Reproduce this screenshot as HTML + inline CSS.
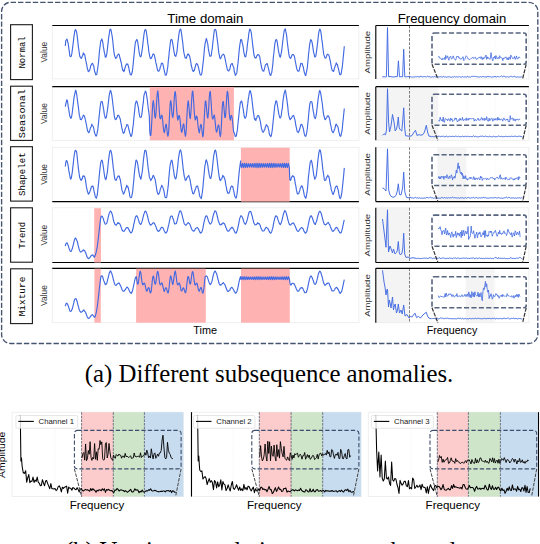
<!DOCTYPE html>
<html><head><meta charset="utf-8"><style>
html,body{margin:0;padding:0;background:#fff;width:540px;height:544px;overflow:hidden}
svg{display:block}
</style></head><body>
<svg width="540" height="544" viewBox="0 0 540 544">
<rect x="1.6" y="2.3" width="536.2" height="341.2" rx="9" ry="9" fill="none" stroke="#44536f" stroke-width="1.35" stroke-dasharray="5.4 2.0"/>
<text x="167.3" y="22.8" font-family="Liberation Sans" font-size="12.4" textLength="76" lengthAdjust="spacingAndGlyphs">Time domain</text>
<text x="397.8" y="22.8" font-family="Liberation Sans" font-size="12.4" textLength="108.4" lengthAdjust="spacingAndGlyphs">Frequency domain</text>
<rect x="10.6" y="24.70" width="21.8" height="54.90" fill="#fff" stroke="#1a1a1a" stroke-width="1.1"/>
<text x="0" y="0" transform="translate(24.6 52.45) rotate(-90)" text-anchor="middle" font-family="Liberation Mono" font-size="9.4" textLength="32.1" lengthAdjust="spacingAndGlyphs">Normal</text>
<text x="0" y="0" transform="translate(47.2 52.20) rotate(-90)" text-anchor="middle" font-family="Liberation Sans" font-size="8.4" fill="#333">Value</text>
<text x="0" y="0" transform="translate(370.4 52.20) rotate(-90)" text-anchor="middle" font-family="Liberation Sans" font-size="8.0" fill="#333" textLength="42.5" lengthAdjust="spacingAndGlyphs">Amplitude</text>
<rect x="52.30" y="25.50" width="306.60" height="53.40" fill="none" stroke="#ebebeb" stroke-width="0.8"/>
<rect x="375.80" y="25.50" width="153.10" height="53.40" fill="none" stroke="#ebebeb" stroke-width="0.8"/>
<line x1="438.20" y1="25.50" x2="438.20" y2="78.90" stroke="#f2f2f2" stroke-width="0.6" stroke-dasharray="1.5 1.5"/>
<line x1="466.90" y1="25.50" x2="466.90" y2="78.90" stroke="#f2f2f2" stroke-width="0.6" stroke-dasharray="1.5 1.5"/>
<line x1="495.60" y1="25.50" x2="495.60" y2="78.90" stroke="#f2f2f2" stroke-width="0.6" stroke-dasharray="1.5 1.5"/>
<line x1="409.5" y1="25.50" x2="409.5" y2="78.90" stroke="#666" stroke-width="0.85" stroke-dasharray="2.8 1.4"/>
<line x1="52.30" y1="25.50" x2="358.90" y2="25.50" stroke="#000" stroke-width="1.2"/>
<line x1="375.80" y1="25.50" x2="528.90" y2="25.50" stroke="#000" stroke-width="1.2"/>
<line x1="375.80" y1="25.50" x2="375.80" y2="78.90" stroke="#000" stroke-width="1.1"/>
<rect x="10.6" y="86.20" width="21.8" height="54.20" fill="#fff" stroke="#1a1a1a" stroke-width="1.1"/>
<text x="0" y="0" transform="translate(24.6 113.60) rotate(-90)" text-anchor="middle" font-family="Liberation Mono" font-size="9.4" textLength="49.2" lengthAdjust="spacingAndGlyphs">Seasonal</text>
<text x="0" y="0" transform="translate(47.2 113.50) rotate(-90)" text-anchor="middle" font-family="Liberation Sans" font-size="8.4" fill="#333">Value</text>
<text x="0" y="0" transform="translate(370.4 113.50) rotate(-90)" text-anchor="middle" font-family="Liberation Sans" font-size="8.0" fill="#333" textLength="42.5" lengthAdjust="spacingAndGlyphs">Amplitude</text>
<rect x="52.30" y="86.70" width="306.60" height="53.60" fill="none" stroke="#ebebeb" stroke-width="0.8"/>
<rect x="375.80" y="86.70" width="62.20" height="53.60" fill="#f4f4f4"/>
<rect x="375.80" y="86.70" width="153.10" height="53.60" fill="none" stroke="#ebebeb" stroke-width="0.8"/>
<line x1="438.20" y1="86.70" x2="438.20" y2="140.30" stroke="#f2f2f2" stroke-width="0.6" stroke-dasharray="1.5 1.5"/>
<line x1="466.90" y1="86.70" x2="466.90" y2="140.30" stroke="#f2f2f2" stroke-width="0.6" stroke-dasharray="1.5 1.5"/>
<line x1="495.60" y1="86.70" x2="495.60" y2="140.30" stroke="#f2f2f2" stroke-width="0.6" stroke-dasharray="1.5 1.5"/>
<line x1="409.5" y1="86.70" x2="409.5" y2="140.30" stroke="#666" stroke-width="0.85" stroke-dasharray="2.8 1.4"/>
<line x1="52.30" y1="86.70" x2="358.90" y2="86.70" stroke="#000" stroke-width="1.2"/>
<line x1="375.80" y1="86.70" x2="528.90" y2="86.70" stroke="#000" stroke-width="1.2"/>
<line x1="375.80" y1="86.70" x2="375.80" y2="140.30" stroke="#000" stroke-width="1.1"/>
<rect x="10.6" y="146.70" width="21.8" height="54.40" fill="#fff" stroke="#1a1a1a" stroke-width="1.1"/>
<text x="0" y="0" transform="translate(24.6 174.20) rotate(-90)" text-anchor="middle" font-family="Liberation Mono" font-size="9.4" textLength="43.6" lengthAdjust="spacingAndGlyphs">Shapelet</text>
<text x="0" y="0" transform="translate(47.2 174.45) rotate(-90)" text-anchor="middle" font-family="Liberation Sans" font-size="8.4" fill="#333">Value</text>
<text x="0" y="0" transform="translate(370.4 174.45) rotate(-90)" text-anchor="middle" font-family="Liberation Sans" font-size="8.0" fill="#333" textLength="42.5" lengthAdjust="spacingAndGlyphs">Amplitude</text>
<rect x="52.30" y="147.30" width="306.60" height="54.30" fill="none" stroke="#ebebeb" stroke-width="0.8"/>
<rect x="437.5" y="147.30" width="28.6" height="54.30" fill="#f4f4f4"/>
<rect x="375.80" y="147.30" width="153.10" height="54.30" fill="none" stroke="#ebebeb" stroke-width="0.8"/>
<line x1="438.20" y1="147.30" x2="438.20" y2="201.60" stroke="#f2f2f2" stroke-width="0.6" stroke-dasharray="1.5 1.5"/>
<line x1="466.90" y1="147.30" x2="466.90" y2="201.60" stroke="#f2f2f2" stroke-width="0.6" stroke-dasharray="1.5 1.5"/>
<line x1="495.60" y1="147.30" x2="495.60" y2="201.60" stroke="#f2f2f2" stroke-width="0.6" stroke-dasharray="1.5 1.5"/>
<line x1="409.5" y1="147.30" x2="409.5" y2="201.60" stroke="#666" stroke-width="0.85" stroke-dasharray="2.8 1.4"/>
<line x1="52.30" y1="201.60" x2="358.90" y2="201.60" stroke="#000" stroke-width="1.2"/>
<line x1="375.80" y1="201.60" x2="528.90" y2="201.60" stroke="#000" stroke-width="1.2"/>
<line x1="375.80" y1="147.30" x2="375.80" y2="201.60" stroke="#000" stroke-width="1.1"/>
<rect x="10.6" y="207.80" width="21.8" height="54.40" fill="#fff" stroke="#1a1a1a" stroke-width="1.1"/>
<text x="0" y="0" transform="translate(24.6 235.30) rotate(-90)" text-anchor="middle" font-family="Liberation Mono" font-size="9.4" textLength="27.1" lengthAdjust="spacingAndGlyphs">Trend</text>
<text x="0" y="0" transform="translate(47.2 235.15) rotate(-90)" text-anchor="middle" font-family="Liberation Sans" font-size="8.4" fill="#333">Value</text>
<text x="0" y="0" transform="translate(370.4 235.15) rotate(-90)" text-anchor="middle" font-family="Liberation Sans" font-size="8.0" fill="#333" textLength="42.5" lengthAdjust="spacingAndGlyphs">Amplitude</text>
<rect x="52.30" y="207.80" width="306.60" height="54.70" fill="none" stroke="#ebebeb" stroke-width="0.8"/>
<rect x="375.80" y="207.80" width="33.70" height="54.70" fill="#f4f4f4"/>
<rect x="375.80" y="207.80" width="153.10" height="54.70" fill="none" stroke="#ebebeb" stroke-width="0.8"/>
<line x1="438.20" y1="207.80" x2="438.20" y2="262.50" stroke="#f2f2f2" stroke-width="0.6" stroke-dasharray="1.5 1.5"/>
<line x1="466.90" y1="207.80" x2="466.90" y2="262.50" stroke="#f2f2f2" stroke-width="0.6" stroke-dasharray="1.5 1.5"/>
<line x1="495.60" y1="207.80" x2="495.60" y2="262.50" stroke="#f2f2f2" stroke-width="0.6" stroke-dasharray="1.5 1.5"/>
<line x1="409.5" y1="207.80" x2="409.5" y2="262.50" stroke="#666" stroke-width="0.85" stroke-dasharray="2.8 1.4"/>
<line x1="52.30" y1="262.50" x2="358.90" y2="262.50" stroke="#000" stroke-width="1.2"/>
<line x1="375.80" y1="262.50" x2="528.90" y2="262.50" stroke="#000" stroke-width="1.2"/>
<line x1="375.80" y1="207.80" x2="375.80" y2="262.50" stroke="#000" stroke-width="1.1"/>
<rect x="10.6" y="268.80" width="21.8" height="54.80" fill="#fff" stroke="#1a1a1a" stroke-width="1.1"/>
<text x="0" y="0" transform="translate(24.6 296.50) rotate(-90)" text-anchor="middle" font-family="Liberation Mono" font-size="9.4" textLength="39.7" lengthAdjust="spacingAndGlyphs">Mixture</text>
<text x="0" y="0" transform="translate(47.2 295.50) rotate(-90)" text-anchor="middle" font-family="Liberation Sans" font-size="8.4" fill="#333">Value</text>
<text x="0" y="0" transform="translate(370.4 295.50) rotate(-90)" text-anchor="middle" font-family="Liberation Sans" font-size="8.0" fill="#333" textLength="42.5" lengthAdjust="spacingAndGlyphs">Amplitude</text>
<rect x="52.30" y="268.30" width="306.60" height="54.40" fill="none" stroke="#ebebeb" stroke-width="0.8"/>
<rect x="465.6" y="268.30" width="28.8" height="54.40" fill="#f4f4f4"/>
<rect x="375.80" y="268.30" width="33.70" height="54.40" fill="#f4f4f4"/>
<rect x="375.80" y="268.30" width="153.10" height="54.40" fill="none" stroke="#ebebeb" stroke-width="0.8"/>
<line x1="438.20" y1="268.30" x2="438.20" y2="322.70" stroke="#f2f2f2" stroke-width="0.6" stroke-dasharray="1.5 1.5"/>
<line x1="466.90" y1="268.30" x2="466.90" y2="322.70" stroke="#f2f2f2" stroke-width="0.6" stroke-dasharray="1.5 1.5"/>
<line x1="495.60" y1="268.30" x2="495.60" y2="322.70" stroke="#f2f2f2" stroke-width="0.6" stroke-dasharray="1.5 1.5"/>
<line x1="409.5" y1="268.30" x2="409.5" y2="322.70" stroke="#666" stroke-width="0.85" stroke-dasharray="2.8 1.4"/>
<line x1="52.30" y1="268.30" x2="358.90" y2="268.30" stroke="#000" stroke-width="1.2"/>
<line x1="375.80" y1="268.30" x2="528.90" y2="268.30" stroke="#000" stroke-width="1.2"/>
<line x1="375.80" y1="268.30" x2="375.80" y2="322.70" stroke="#000" stroke-width="1.1"/>
<rect x="149.80" y="87.10" width="84.10" height="53.20" fill="#ffb2b2"/>
<rect x="240.90" y="147.70" width="48.80" height="53.90" fill="#ffb2b2"/>
<rect x="94.20" y="208.20" width="6.80" height="54.30" fill="#ffb2b2"/>
<rect x="94.40" y="268.70" width="6.40" height="54.00" fill="#ffb2b2"/>
<rect x="136.10" y="268.70" width="69.70" height="54.00" fill="#ffb2b2"/>
<rect x="241.00" y="268.70" width="48.80" height="54.00" fill="#ffb2b2"/>
<path d="M65.30 46.02L65.80 40.65L66.30 40.01L66.80 39.02L67.30 39.93L67.80 42.09L68.30 44.19L68.80 48.33L69.30 51.32L69.80 55.94L70.30 56.36L70.80 56.68L71.30 55.93L71.80 53.64L72.30 50.20L72.80 46.41L73.30 42.34L73.80 37.64L74.30 34.37L74.80 31.02L75.30 29.57L75.80 30.13L76.30 31.00L76.80 33.11L77.30 36.84L77.80 41.35L78.30 46.35L78.80 49.50L79.30 53.05L79.80 56.29L80.30 57.13L80.80 58.08L81.30 58.42L81.80 57.47L82.30 56.12L82.80 55.26L83.30 52.90L83.80 54.43L84.30 54.07L84.80 55.06L85.30 57.95L85.80 60.67L86.30 62.93L86.80 65.37L87.30 68.25L87.80 70.00L88.30 71.66L88.80 71.54L89.30 70.69L89.80 69.87L90.30 67.67L90.80 65.66L91.30 64.88L91.80 63.94L92.30 63.34L92.80 63.63L93.30 65.41L93.80 66.11L94.30 69.82L94.80 72.02L95.30 72.97L95.80 74.92L96.30 74.61L96.80 74.33L97.30 70.74L97.80 67.73L98.30 64.00L98.80 59.15L99.30 52.45L99.80 48.29L100.30 44.49L100.80 41.02L101.30 40.31L101.80 38.81L102.30 40.62L102.80 42.24L103.30 46.38L103.80 49.10L104.30 52.14L104.80 54.12L105.30 57.23L105.80 57.13L106.30 56.07L106.80 53.88L107.30 50.06L107.80 45.42L108.30 40.86L108.80 36.57L109.30 33.90L109.80 30.04L110.30 29.15L110.80 29.44L111.30 31.27L111.80 34.25L112.30 37.16L112.80 41.20L113.30 46.34L113.80 50.93L114.30 54.12L114.80 56.36L115.30 57.60L115.80 58.36L116.30 57.79L116.80 57.36L117.30 55.48L117.80 54.82L118.30 54.03L118.80 54.26L119.30 54.80L119.80 57.31L120.30 58.97L120.80 61.57L121.30 62.77L121.80 66.22L122.30 68.38L122.80 70.53L123.30 70.11L123.80 71.67L124.30 70.88L124.80 68.48L125.30 66.98L125.80 65.40L126.30 64.40L126.80 63.85L127.30 64.40L127.80 64.10L128.30 66.00L128.80 67.74L129.30 70.77L129.80 72.55L130.30 74.63L130.80 74.53L131.30 74.85L131.80 73.26L132.30 71.72L132.80 67.62L133.30 62.57L133.80 57.38L134.30 52.61L134.80 47.29L135.30 43.22L135.80 41.06L136.30 40.54L136.80 39.35L137.30 40.58L137.80 42.74L138.30 45.81L138.80 50.01L139.30 53.27L139.80 55.31L140.30 56.80L140.80 56.74L141.30 55.42L141.80 52.06L142.30 48.91L142.80 44.87L143.30 39.98L143.80 35.92L144.30 32.31L144.80 30.18L145.30 29.72L145.80 29.61L146.30 31.58L146.80 35.04L147.30 38.84L147.80 43.62L148.30 46.25L148.80 51.51L149.30 54.13L149.80 56.70L150.30 58.29L150.80 58.71L151.30 58.22L151.80 56.84L152.30 56.33L152.80 54.46L153.30 53.94L153.80 54.45L154.30 54.69L154.80 57.51L155.30 59.25L155.80 62.43L156.30 64.23L156.80 66.69L157.30 69.11L157.80 70.85L158.30 70.94L158.80 71.22L159.30 70.16L159.80 69.48L160.30 66.78L160.80 65.92L161.30 63.88L161.80 63.05L162.30 63.24L162.80 63.89L163.30 66.08L163.80 68.59L164.30 70.52L164.80 72.91L165.30 75.02L165.80 75.21L166.30 74.86L166.80 73.08L167.30 69.66L167.80 66.80L168.30 60.92L168.80 56.83L169.30 51.39L169.80 47.24L170.30 42.95L170.80 40.07L171.30 39.48L171.80 39.38L172.30 41.16L172.80 43.87L173.30 47.02L173.80 50.35L174.30 53.07L174.80 55.58L175.30 55.80L175.80 56.46L176.30 54.40L176.80 52.60L177.30 48.86L177.80 43.05L178.30 39.52L178.80 35.31L179.30 31.64L179.80 30.25L180.30 29.10L180.80 29.27L181.30 32.05L181.80 35.32L182.30 39.43L182.80 43.19L183.30 48.30L183.80 52.17L184.30 54.37L184.80 56.68L185.30 58.01L185.80 57.93L186.30 58.38L186.80 56.64L187.30 54.93L187.80 54.07L188.30 53.94L188.80 55.23L189.30 55.12L189.80 57.00L190.30 59.53L190.80 61.99L191.30 65.82L191.80 67.11L192.30 69.73L192.80 70.80L193.30 71.51L193.80 70.40L194.30 70.72L194.80 68.37L195.30 66.75L195.80 64.74L196.30 63.65L196.80 63.69L197.30 64.11L197.80 65.03L198.30 66.95L198.80 68.90L199.30 70.92L199.80 73.39L200.30 74.79L200.80 75.08L201.30 74.89L201.80 73.32L202.30 69.79L202.80 65.40L203.30 61.02L203.80 56.35L204.30 50.31L204.80 45.86L205.30 42.30L205.80 40.65L206.30 38.44L206.80 40.02L207.30 42.23L207.80 44.10L208.30 48.42L208.80 51.32L209.30 53.72L209.80 56.08L210.30 56.14L210.80 56.07L211.30 55.28L211.80 51.00L212.30 48.28L212.80 42.99L213.30 39.04L213.80 34.66L214.30 30.58L214.80 29.50L215.30 29.43L215.80 29.86L216.30 32.13L216.80 36.31L217.30 39.95L217.80 43.85L218.30 48.52L218.80 52.90L219.30 55.17L219.80 57.69L220.30 58.83L220.80 58.13L221.30 56.90L221.80 55.73L222.30 55.15L222.80 54.68L223.30 54.07L223.80 54.58L224.30 55.29L224.80 57.51L225.30 59.60L225.80 62.42L226.30 64.75L226.80 67.10L227.30 69.50L227.80 70.40L228.30 70.81L228.80 71.08L229.30 69.60L229.80 69.41L230.30 66.82L230.80 64.59L231.30 64.16L231.80 63.58L232.30 63.50L232.80 65.48L233.30 66.46L233.80 67.67L234.30 71.71L234.80 73.09L235.30 75.40L235.80 74.82L236.30 73.77L236.80 72.92L237.30 68.45L237.80 64.73L238.30 60.32L238.80 54.50L239.30 49.41L239.80 45.15L240.30 42.18L240.80 39.46L241.30 39.55L241.80 40.39L242.30 43.24L242.80 44.95L243.30 48.02L243.80 52.04L244.30 54.27L244.80 56.39L245.30 56.90L245.80 56.58L246.30 53.64L246.80 50.63L247.30 45.44L247.80 41.72L248.30 38.44L248.80 33.64L249.30 30.80L249.80 29.01L250.30 29.70L250.80 30.83L251.30 32.81L251.80 37.22L252.30 41.23L252.80 45.82L253.30 49.33L253.80 53.95L254.30 56.03L254.80 57.47L255.30 57.97L255.80 57.91L256.30 57.59L256.80 55.95L257.30 55.44L257.80 54.43L258.30 54.57L258.80 54.87L259.30 55.79L259.80 56.97L260.30 60.48L260.80 63.48L261.30 65.93L261.80 68.49L262.30 69.81L262.80 70.86L263.30 70.78L263.80 71.21L264.30 69.44L264.80 67.54L265.30 65.48L265.80 64.55L266.30 64.32L266.80 63.64L267.30 63.66L267.80 65.95L268.30 67.88L268.80 69.95L269.30 72.15L269.80 74.23L270.30 75.13L270.80 75.40L271.30 73.64L271.80 72.33L272.30 68.25L272.80 64.60L273.30 57.71L273.80 53.74L274.30 48.95L274.80 44.19L275.30 41.50L275.80 39.93L276.30 39.60L276.80 40.21L277.30 42.65L277.80 46.20L278.30 49.68L278.80 52.36L279.30 54.93L279.80 56.57L280.30 57.26L280.80 55.26L281.30 52.77L281.80 49.96L282.30 45.21L282.80 40.96L283.30 36.97L283.80 33.51L284.30 30.21L284.80 29.78L285.30 28.79L285.80 31.42L286.30 33.28L286.80 37.15L287.30 42.27L287.80 46.16L288.30 50.03L288.80 53.57L289.30 56.47L289.80 57.71L290.30 58.22L290.80 58.38L291.30 56.67L291.80 55.63L292.30 54.53L292.80 54.60L293.30 54.46L293.80 55.28L294.30 56.15L294.80 58.23L295.30 61.28L295.80 63.51L296.30 66.74L296.80 68.98L297.30 69.97L297.80 71.09L298.30 71.09L298.80 71.17L299.30 70.23L299.80 67.37L300.30 65.76L300.80 63.36L301.30 63.66L301.80 63.47L302.30 63.71L302.80 66.00L303.30 66.97L303.80 69.88L304.30 72.28L304.80 73.45L305.30 75.40L305.80 75.41L306.30 73.00L306.80 70.41L307.30 67.59L307.80 62.70L308.30 57.04L308.80 52.26L309.30 47.56L309.80 43.57L310.30 41.21L310.80 39.60L311.30 40.26L311.80 41.45L312.30 43.58L312.80 46.89L313.30 50.37L313.80 53.21L314.30 54.75L314.80 57.03L315.30 56.72L315.80 56.09L316.30 52.79L316.80 49.35L317.30 44.97L317.80 41.09L318.30 36.21L318.80 32.55L319.30 30.47L319.80 29.14L320.30 29.87L320.80 31.64L321.30 34.79L321.80 39.41L322.30 42.68L322.80 47.21L323.30 51.04L323.80 54.65L324.30 56.11L324.80 57.60L325.30 58.21L325.80 58.00L326.30 56.75L326.80 55.38L327.30 54.20L327.80 54.24L328.30 54.74L328.80 55.08L329.30 56.63L329.80 58.99L330.30 61.02L330.80 64.10L331.30 66.75L331.80 69.17L332.30 70.51L332.80 70.65L333.30 71.56L333.80 70.93L334.30 68.63L334.80 67.26L335.30 65.57L335.80 64.52L336.30 62.82L336.80 64.28L337.30 64.22L337.80 66.59L338.30 68.16L338.80 70.27L339.30 72.56L339.80 74.69L340.30 74.70L340.80 74.61L341.30 72.99L341.80 69.61L342.30 67.04L342.80 61.97L343.30 56.53L343.80 51.92L344.30 46.30" fill="none" stroke="#4169e1" stroke-width="1.15" stroke-linejoin="round"/>
<path d="M65.30 106.59L65.80 104.14L66.30 101.86L66.80 99.90L67.30 100.25L67.80 103.29L68.30 107.09L68.80 109.70L69.30 113.03L69.80 116.10L70.30 117.22L70.80 118.28L71.30 117.77L71.80 115.53L72.30 112.29L72.80 107.82L73.30 103.92L73.80 99.19L74.30 96.21L74.80 93.99L75.30 90.99L75.80 90.23L76.30 92.30L76.80 95.21L77.30 99.03L77.80 103.17L78.30 106.65L78.80 110.73L79.30 115.13L79.80 116.72L80.30 119.34L80.80 119.43L81.30 119.69L81.80 118.86L82.30 117.78L82.80 116.70L83.30 115.12L83.80 115.49L84.30 115.89L84.80 117.31L85.30 119.70L85.80 121.53L86.30 124.07L86.80 126.75L87.30 129.28L87.80 131.50L88.30 131.80L88.80 132.85L89.30 131.87L89.80 130.43L90.30 128.35L90.80 127.39L91.30 126.16L91.80 124.14L92.30 125.21L92.80 125.96L93.30 126.68L93.80 128.65L94.30 131.74L94.80 133.46L95.30 134.40L95.80 135.96L96.30 136.05L96.80 135.01L97.30 131.74L97.80 129.66L98.30 124.65L98.80 120.02L99.30 114.76L99.80 110.37L100.30 105.75L100.80 102.52L101.30 101.44L101.80 101.57L102.30 101.91L102.80 104.88L103.30 107.38L103.80 110.33L104.30 114.40L104.80 115.91L105.30 118.28L105.80 117.92L106.30 117.30L106.80 114.22L107.30 110.99L107.80 107.70L108.30 102.89L108.80 98.59L109.30 94.79L109.80 92.63L110.30 90.56L110.80 90.85L111.30 92.84L111.80 95.31L112.30 99.05L112.80 103.52L113.30 107.79L113.80 111.73L114.30 115.91L114.80 118.07L115.30 119.62L115.80 119.55L116.30 119.01L116.80 117.70L117.30 117.05L117.80 115.22L118.30 115.21L118.80 115.74L119.30 116.80L119.80 117.95L120.30 119.24L120.80 122.40L121.30 124.58L121.80 127.94L122.30 129.77L122.80 131.81L123.30 133.41L123.80 132.69L124.30 132.57L124.80 130.31L125.30 128.46L125.80 127.56L126.30 126.38L126.80 124.57L127.30 124.76L127.80 124.79L128.30 126.78L128.80 129.25L129.30 131.09L129.80 133.08L130.30 134.48L130.80 136.25L131.30 136.37L131.80 134.98L132.30 132.29L132.80 127.95L133.30 124.75L133.80 118.90L134.30 113.75L134.80 109.41L135.30 104.22L135.80 102.40L136.30 100.98L136.80 101.23L137.30 103.01L137.80 105.03L138.30 107.10L138.80 111.08L139.30 114.39L139.80 116.74L140.30 117.43L140.80 117.30L141.30 116.97L141.80 114.31L142.30 110.57L142.80 105.58L143.30 102.72L143.80 96.51L144.30 94.22L144.80 93.00L145.30 91.03L145.80 91.65L146.30 92.85L146.80 96.95L147.30 99.59L147.80 104.53L148.30 108.74L148.80 112.09L149.30 116.13L149.80 131.86L150.30 135.50L150.80 135.38L151.30 129.92L151.80 121.18L152.30 111.31L152.80 103.25L153.30 100.65L153.80 103.52L154.30 109.74L154.80 116.19L155.30 118.09L155.80 115.51L156.30 108.05L156.80 99.01L157.30 93.23L157.80 90.74L158.30 95.04L158.80 103.35L159.30 110.59L159.80 117.18L160.30 118.83L160.80 118.32L161.30 115.67L161.80 115.20L162.30 116.94L162.80 121.70L163.30 127.77L163.80 131.29L164.30 132.63L164.80 130.50L165.30 127.17L165.80 124.55L166.30 124.43L166.80 128.46L167.30 133.64L167.80 136.18L168.30 134.84L168.80 130.05L169.30 119.76L169.80 109.71L170.30 102.34L170.80 100.53L171.30 104.16L171.80 111.46L172.30 116.18L172.80 117.68L173.30 114.50L173.80 107.13L174.30 97.82L174.80 92.49L175.30 91.66L175.80 95.82L176.30 103.82L176.80 111.26L177.30 116.86L177.80 120.13L178.30 118.83L178.80 115.46L179.30 115.49L179.80 117.53L180.30 122.42L180.80 127.67L181.30 131.21L181.80 132.36L182.30 130.30L182.80 126.95L183.30 123.99L183.80 124.10L184.30 128.51L184.80 132.61L185.30 136.20L185.80 135.04L186.30 128.63L186.80 118.76L187.30 109.12L187.80 102.95L188.30 100.75L188.80 105.23L189.30 111.54L189.80 116.79L190.30 118.68L190.80 113.84L191.30 106.77L191.80 97.38L192.30 91.73L192.80 91.08L193.30 96.55L193.80 104.00L194.30 112.58L194.80 117.48L195.30 120.02L195.80 118.94L196.30 116.07L196.80 116.20L197.30 118.14L197.80 123.69L198.30 128.11L198.80 130.97L199.30 132.85L199.80 129.87L200.30 126.21L200.80 124.44L201.30 124.94L201.80 129.23L202.30 133.26L202.80 136.82L203.30 134.60L203.80 126.92L204.30 117.22L204.80 107.98L205.30 101.19L205.80 101.19L206.30 105.38L206.80 111.54L207.30 116.79L207.80 118.11L208.30 114.14L208.80 106.13L209.30 97.05L209.80 92.14L210.30 91.48L210.80 97.24L211.30 104.86L211.80 113.58L212.30 117.77L212.80 119.09L213.30 117.89L213.80 116.06L214.30 114.94L214.80 118.05L215.30 123.34L215.80 128.64L216.30 131.49L216.80 132.11L217.30 129.48L217.80 127.00L218.30 124.93L218.80 125.34L219.30 128.78L219.80 134.16L220.30 136.72L220.80 133.93L221.30 127.17L221.80 116.65L222.30 106.80L222.80 102.03L223.30 101.50L223.80 106.30L224.30 111.90L224.80 117.43L225.30 117.40L225.80 113.19L226.30 104.32L226.80 96.05L227.30 91.25L227.80 92.68L228.30 97.81L228.80 105.81L229.30 113.48L229.80 118.15L230.30 120.09L230.80 116.86L231.30 115.30L231.80 116.00L232.30 119.24L232.80 123.76L233.30 129.33L233.80 132.37L234.30 132.92L234.80 134.49L235.30 136.54L235.80 136.28L236.30 136.07L236.80 132.86L237.30 130.53L237.80 125.32L238.30 120.32L238.80 116.07L239.30 110.55L239.80 106.84L240.30 102.92L240.80 102.15L241.30 100.91L241.80 101.25L242.30 103.85L242.80 107.03L243.30 109.58L243.80 113.38L244.30 116.76L244.80 118.02L245.30 118.20L245.80 117.18L246.30 115.61L246.80 111.46L247.30 106.77L247.80 103.42L248.30 98.93L248.80 96.43L249.30 92.93L249.80 90.90L250.30 90.71L250.80 92.74L251.30 94.70L251.80 98.33L252.30 102.68L252.80 107.07L253.30 111.15L253.80 114.65L254.30 117.81L254.80 119.65L255.30 118.83L255.80 120.52L256.30 118.64L256.80 118.02L257.30 116.04L257.80 115.73L258.30 115.48L258.80 115.97L259.30 117.59L259.80 119.47L260.30 121.23L260.80 124.36L261.30 127.43L261.80 129.75L262.30 131.05L262.80 132.07L263.30 132.30L263.80 131.28L264.30 129.99L264.80 129.67L265.30 127.14L265.80 125.93L266.30 124.62L266.80 125.29L267.30 126.04L267.80 126.46L268.30 128.69L268.80 130.37L269.30 133.73L269.80 135.24L270.30 135.63L270.80 136.71L271.30 135.27L271.80 133.00L272.30 129.51L272.80 124.67L273.30 119.75L273.80 115.13L274.30 109.99L274.80 105.49L275.30 103.81L275.80 101.14L276.30 100.74L276.80 101.77L277.30 104.61L277.80 107.72L278.30 110.71L278.80 114.14L279.30 115.64L279.80 117.70L280.30 117.96L280.80 117.13L281.30 115.01L281.80 110.48L282.30 108.64L282.80 102.45L283.30 98.76L283.80 95.38L284.30 92.84L284.80 91.31L285.30 90.08L285.80 92.45L286.30 96.04L286.80 98.97L287.30 103.11L287.80 106.83L288.30 112.39L288.80 115.41L289.30 117.24L289.80 119.03L290.30 119.53L290.80 118.75L291.30 118.24L291.80 117.33L292.30 116.40L292.80 116.04L293.30 115.43L293.80 115.89L294.30 117.71L294.80 119.35L295.30 121.64L295.80 125.45L296.30 127.42L296.80 129.88L297.30 131.73L297.80 131.78L298.30 132.57L298.80 131.75L299.30 130.20L299.80 128.79L300.30 126.64L300.80 124.65L301.30 124.69L301.80 124.33L302.30 125.82L302.80 126.99L303.30 128.63L303.80 131.16L304.30 133.94L304.80 135.61L305.30 136.26L305.80 136.21L306.30 134.60L306.80 132.13L307.30 128.78L307.80 123.92L308.30 119.06L308.80 113.32L309.30 108.36L309.80 104.44L310.30 102.24L310.80 101.63L311.30 101.60L311.80 101.98L312.30 104.14L312.80 108.27L313.30 111.44L313.80 113.70L314.30 117.15L314.80 118.08L315.30 118.63L315.80 116.89L316.30 114.56L316.80 110.73L317.30 105.93L317.80 101.83L318.30 97.50L318.80 94.76L319.30 91.64L319.80 90.42L320.30 91.86L320.80 93.89L321.30 97.00L321.80 100.66L322.30 103.76L322.80 108.38L323.30 112.32L323.80 115.73L324.30 117.04L324.80 119.24L325.30 119.68L325.80 118.67L326.30 118.18L326.80 117.51L327.30 115.99L327.80 115.87L328.30 115.93L328.80 116.50L329.30 118.07L329.80 119.95L330.30 123.28L330.80 125.28L331.30 127.76L331.80 130.52L332.30 131.35L332.80 132.53L333.30 132.66L333.80 131.36L334.30 129.97L334.80 128.68L335.30 127.01L335.80 124.73L336.30 124.16L336.80 125.40L337.30 125.84L337.80 126.31L338.30 128.71L338.80 131.61L339.30 133.31L339.80 135.59L340.30 136.21L340.80 136.08L341.30 133.80L341.80 131.81L342.30 128.54L342.80 122.64L343.30 118.48L343.80 113.27L344.30 108.53" fill="none" stroke="#4169e1" stroke-width="1.15" stroke-linejoin="round"/>
<path d="M65.30 166.47L65.80 162.49L66.30 160.54L66.80 160.75L67.30 161.75L67.80 164.02L68.30 166.95L68.80 170.43L69.30 173.23L69.80 175.75L70.30 178.31L70.80 179.06L71.30 178.04L71.80 175.06L72.30 172.10L72.80 167.37L73.30 163.44L73.80 158.29L74.30 154.71L74.80 151.97L75.30 150.25L75.80 150.70L76.30 150.91L76.80 153.12L77.30 158.36L77.80 162.97L78.30 167.58L78.80 171.39L79.30 175.22L79.80 177.84L80.30 178.94L80.80 180.00L81.30 180.31L81.80 178.94L82.30 178.93L82.80 176.13L83.30 175.82L83.80 176.34L84.30 176.09L84.80 177.22L85.30 179.22L85.80 182.17L86.30 186.15L86.80 188.49L87.30 191.04L87.80 192.43L88.30 194.13L88.80 193.97L89.30 192.84L89.80 191.77L90.30 190.39L90.80 189.08L91.30 186.98L91.80 186.24L92.30 186.71L92.80 185.96L93.30 187.14L93.80 190.21L94.30 192.35L94.80 194.49L95.30 196.67L95.80 197.63L96.30 198.20L96.80 196.68L97.30 194.77L97.80 190.15L98.30 185.64L98.80 180.77L99.30 175.02L99.80 170.42L100.30 165.70L100.80 162.26L101.30 160.83L101.80 160.21L102.30 160.90L102.80 163.46L103.30 166.81L103.80 170.49L104.30 174.13L104.80 177.22L105.30 178.71L105.80 179.63L106.30 178.28L106.80 175.10L107.30 172.34L107.80 167.71L108.30 162.23L108.80 158.08L109.30 154.63L109.80 151.50L110.30 150.53L110.80 150.41L111.30 152.22L111.80 154.69L112.30 158.94L112.80 163.07L113.30 168.14L113.80 171.27L114.30 175.78L114.80 178.82L115.30 180.06L115.80 180.29L116.30 180.21L116.80 178.60L117.30 177.40L117.80 176.49L118.30 175.87L118.80 176.33L119.30 176.17L119.80 178.60L120.30 179.63L120.80 182.73L121.30 186.01L121.80 189.39L122.30 190.95L122.80 191.95L123.30 194.04L123.80 193.84L124.30 192.56L124.80 191.18L125.30 189.62L125.80 188.25L126.30 187.07L126.80 185.20L127.30 186.89L127.80 186.54L128.30 187.91L128.80 190.53L129.30 192.69L129.80 196.09L130.30 197.39L130.80 197.74L131.30 197.66L131.80 196.23L132.30 193.59L132.80 190.16L133.30 184.70L133.80 180.38L134.30 174.13L134.80 169.07L135.30 165.42L135.80 161.10L136.30 160.12L136.80 160.87L137.30 162.03L137.80 164.58L138.30 168.07L138.80 171.14L139.30 174.61L139.80 176.58L140.30 177.75L140.80 179.28L141.30 176.84L141.80 174.21L142.30 171.38L142.80 166.72L143.30 161.26L143.80 156.84L144.30 153.42L144.80 150.55L145.30 150.22L145.80 150.51L146.30 152.44L146.80 155.92L147.30 159.97L147.80 165.03L148.30 169.42L148.80 172.03L149.30 176.64L149.80 178.10L150.30 179.29L150.80 180.63L151.30 179.46L151.80 178.62L152.30 178.05L152.80 176.16L153.30 175.44L153.80 176.10L154.30 177.41L154.80 178.77L155.30 180.14L155.80 183.37L156.30 186.54L156.80 190.28L157.30 192.06L157.80 193.60L158.30 194.48L158.80 193.61L159.30 193.06L159.80 191.58L160.30 189.12L160.80 187.87L161.30 186.80L161.80 185.30L162.30 186.27L162.80 187.16L163.30 188.96L163.80 190.32L164.30 193.17L164.80 196.10L165.30 197.53L165.80 197.62L166.30 197.77L166.80 196.69L167.30 193.02L167.80 189.11L168.30 185.16L168.80 178.50L169.30 173.06L169.80 167.75L170.30 163.97L170.80 162.32L171.30 160.37L171.80 160.21L172.30 162.01L172.80 165.20L173.30 168.94L173.80 171.75L174.30 175.60L174.80 177.37L175.30 178.92L175.80 178.75L176.30 177.12L176.80 173.64L177.30 169.77L177.80 165.51L178.30 159.96L178.80 156.36L179.30 153.10L179.80 151.15L180.30 149.90L180.80 150.62L181.30 152.98L181.80 155.95L182.30 160.40L182.80 165.26L183.30 169.69L183.80 173.07L184.30 176.61L184.80 177.96L185.30 180.46L185.80 179.98L186.30 179.72L186.80 177.99L187.30 177.24L187.80 176.49L188.30 176.26L188.80 175.39L189.30 177.49L189.80 178.85L190.30 181.02L190.80 184.46L191.30 187.02L191.80 189.70L192.30 191.66L192.80 193.49L193.30 193.94L193.80 193.52L194.30 192.09L194.80 190.74L195.30 189.39L195.80 188.14L196.30 186.29L196.80 186.40L197.30 185.97L197.80 186.54L198.30 189.15L198.80 190.68L199.30 193.77L199.80 196.29L200.30 197.23L200.80 197.96L201.30 198.58L201.80 195.62L202.30 192.42L202.80 188.34L203.30 182.81L203.80 177.35L204.30 172.23L204.80 166.19L205.30 164.28L205.80 160.73L206.30 159.85L206.80 161.23L207.30 162.92L207.80 165.23L208.30 169.37L208.80 172.22L209.30 175.46L209.80 177.20L210.30 178.41L210.80 178.45L211.30 176.37L211.80 173.24L212.30 169.38L212.80 164.28L213.30 159.34L213.80 155.36L214.30 153.07L214.80 150.39L215.30 150.09L215.80 150.98L216.30 153.61L216.80 157.28L217.30 161.38L217.80 165.90L218.30 170.03L218.80 173.87L219.30 177.47L219.80 179.61L220.30 180.61L220.80 180.18L221.30 179.01L221.80 178.55L222.30 177.34L222.80 175.42L223.30 176.15L223.80 176.45L224.30 178.18L224.80 178.84L225.30 181.33L225.80 185.19L226.30 186.88L226.80 189.98L227.30 191.82L227.80 193.09L228.30 193.03L228.80 193.33L229.30 192.72L229.80 190.84L230.30 189.06L230.80 187.08L231.30 186.81L231.80 185.97L232.30 186.63L232.80 186.64L233.30 189.45L233.80 191.09L234.30 194.22L234.80 196.26L235.30 197.06L235.80 198.08L236.30 197.70L236.80 195.20L237.30 191.79L237.80 186.60L238.30 181.47L238.80 175.78L239.30 171.11L239.80 167.05L240.30 163.23L240.80 160.95L239.90 167.35L240.85 163.36L241.80 167.53L242.75 163.22L243.70 167.60L244.65 163.22L245.60 167.52L246.55 163.36L247.50 167.35L248.45 163.54L249.40 167.20L250.35 163.64L251.30 167.17L252.25 163.59L253.20 167.29L254.15 163.42L255.10 167.47L256.05 163.25L257.00 167.59L257.95 163.20L258.90 167.57L259.85 163.30L260.80 167.41L261.75 163.48L262.70 167.24L263.65 163.62L264.60 167.16L265.55 163.62L266.50 167.23L267.45 163.49L268.40 167.41L269.35 163.30L270.30 167.56L271.25 163.20L272.20 167.59L273.15 163.25L274.10 167.48L275.05 163.41L276.00 167.29L276.95 163.58L277.90 167.17L278.85 163.64L279.80 167.19L280.75 163.54L281.70 167.34L282.65 163.36L283.60 167.52L284.55 163.22L285.50 167.60L286.45 163.22L287.40 167.53L288.35 163.35L289.30 167.36L289.80 179.23L290.30 180.49L290.80 179.82L291.30 178.08L291.80 176.95L292.30 176.48L292.80 175.49L293.30 176.63L293.80 176.59L294.30 177.62L294.80 180.12L295.30 183.83L295.80 185.56L296.30 189.19L296.80 191.42L297.30 193.63L297.80 194.08L298.30 193.65L298.80 193.30L299.30 191.69L299.80 190.38L300.30 188.15L300.80 187.67L301.30 185.83L301.80 186.00L302.30 186.23L302.80 188.13L303.30 190.21L303.80 192.70L304.30 195.39L304.80 196.60L305.30 197.50L305.80 198.35L306.30 196.31L306.80 193.42L307.30 190.37L307.80 185.35L308.30 178.36L308.80 173.98L309.30 169.50L309.80 165.35L310.30 161.79L310.80 161.28L311.30 160.20L311.80 161.90L312.30 164.64L312.80 167.87L313.30 171.79L313.80 175.16L314.30 177.19L314.80 179.28L315.30 178.35L315.80 177.17L316.30 175.34L316.80 170.76L317.30 166.71L317.80 161.30L318.30 156.96L318.80 153.41L319.30 151.07L319.80 149.79L320.30 150.44L320.80 152.69L321.30 156.12L321.80 159.67L322.30 164.46L322.80 169.13L323.30 172.33L323.80 175.48L324.30 179.38L324.80 180.58L325.30 180.31L325.80 179.96L326.30 178.32L326.80 176.89L327.30 176.62L327.80 175.16L328.30 176.37L328.80 176.51L329.30 178.66L329.80 181.79L330.30 184.56L330.80 186.48L331.30 189.86L331.80 191.15L332.30 192.92L332.80 194.08L333.30 194.40L333.80 192.56L334.30 191.59L334.80 189.63L335.30 187.28L335.80 186.46L336.30 186.51L336.80 185.84L337.30 187.03L337.80 188.86L338.30 190.33L338.80 193.70L339.30 196.11L339.80 197.90L340.30 198.61L340.80 197.44L341.30 195.74L341.80 192.68L342.30 188.50L342.80 183.57L343.30 178.98L343.80 173.80L344.30 167.91" fill="none" stroke="#4169e1" stroke-width="1.15" stroke-linejoin="round"/>
<path d="M65.30 246.03L65.80 244.00L66.30 243.25L66.80 242.84L67.30 243.12L67.80 244.46L68.30 245.87L68.80 247.36L69.30 248.91L69.80 250.13L70.30 251.18L70.80 251.36L71.30 251.16L71.80 249.83L72.30 248.57L72.80 246.68L73.30 244.69L73.80 242.55L74.30 240.54L74.80 238.99L75.30 238.00L75.80 238.33L76.30 239.27L76.80 240.56L77.30 241.37L77.80 243.77L78.30 245.96L78.80 247.80L79.30 249.76L79.80 251.01L80.30 251.70L80.80 252.13L81.30 251.71L81.80 251.45L82.30 250.92L82.80 250.77L83.30 249.85L83.80 250.06L84.30 250.53L84.80 250.98L85.30 252.13L85.80 253.03L86.30 254.60L86.80 256.01L87.30 257.44L87.80 257.97L88.30 258.60L88.80 258.38L89.30 258.11L89.80 257.84L90.30 256.85L90.80 256.22L91.30 255.37L91.80 255.22L92.30 255.16L92.80 254.74L93.30 255.95L93.80 256.57L94.30 257.27L94.80 256.24L95.30 255.34L95.80 253.51L96.30 251.67L96.80 249.15L97.30 246.26L97.80 242.71L98.30 238.53L98.80 234.03L99.30 229.32L99.80 224.71L100.30 221.18L100.80 217.66L101.30 216.09L101.80 216.20L102.30 216.39L102.80 217.46L103.30 218.46L103.80 220.70L104.30 222.11L104.80 223.20L105.30 224.20L105.80 224.04L106.30 223.64L106.80 223.05L107.30 221.12L107.80 219.15L108.30 216.96L108.80 214.87L109.30 213.03L109.80 212.23L110.30 211.11L110.80 211.37L111.30 211.92L111.80 213.24L112.30 214.59L112.80 216.74L113.30 219.58L113.80 221.51L114.30 222.72L114.80 224.00L115.30 224.85L115.80 224.74L116.30 225.18L116.80 224.14L117.30 223.65L117.80 222.69L118.30 223.29L118.80 222.94L119.30 223.61L119.80 223.75L120.30 225.06L120.80 226.25L121.30 227.62L121.80 229.31L122.30 230.44L122.80 231.04L123.30 231.06L123.80 231.34L124.30 231.08L124.80 230.28L125.30 229.49L125.80 228.67L126.30 227.71L126.80 227.57L127.30 227.82L127.80 227.60L128.30 228.53L128.80 229.67L129.30 230.30L129.80 231.64L130.30 232.16L130.80 232.88L131.30 232.67L131.80 232.15L132.30 231.00L132.80 229.26L133.30 227.06L133.80 224.12L134.30 222.49L134.80 219.79L135.30 217.71L135.80 216.47L136.30 215.99L136.80 215.72L137.30 216.51L137.80 217.67L138.30 219.39L138.80 220.73L139.30 222.49L139.80 223.62L140.30 224.16L140.80 224.48L141.30 223.58L141.80 222.07L142.30 220.64L142.80 218.54L143.30 216.35L143.80 214.39L144.30 213.19L144.80 211.61L145.30 211.18L145.80 211.25L146.30 212.47L146.80 213.63L147.30 215.33L147.80 217.31L148.30 219.76L148.80 221.70L149.30 222.74L149.80 224.03L150.30 224.94L150.80 225.17L151.30 224.44L151.80 224.16L152.30 223.87L152.80 223.09L153.30 222.83L153.80 222.84L154.30 223.09L154.80 224.15L155.30 225.28L155.80 226.19L156.30 227.86L156.80 229.34L157.30 230.18L157.80 231.06L158.30 231.06L158.80 231.40L159.30 230.51L159.80 230.41L160.30 229.10L160.80 228.26L161.30 227.61L161.80 227.38L162.30 227.40L162.80 227.78L163.30 228.62L163.80 229.84L164.30 231.00L164.80 231.79L165.30 232.92L165.80 232.83L166.30 232.67L166.80 231.89L167.30 230.91L167.80 228.56L168.30 226.32L168.80 224.41L169.30 222.04L169.80 219.72L170.30 217.31L170.80 216.41L171.30 216.05L171.80 216.04L172.30 216.44L172.80 217.98L173.30 219.23L173.80 220.94L174.30 223.12L174.80 223.87L175.30 223.93L175.80 223.81L176.30 223.47L176.80 221.87L177.30 220.30L177.80 217.94L178.30 215.89L178.80 214.03L179.30 212.19L179.80 210.99L180.30 210.81L180.80 211.28L181.30 212.39L181.80 213.97L182.30 215.89L182.80 218.10L183.30 219.85L183.80 222.18L184.30 223.77L184.80 224.42L185.30 224.90L185.80 225.20L186.30 224.78L186.80 224.18L187.30 223.54L187.80 222.96L188.30 222.65L188.80 223.15L189.30 223.75L189.80 224.10L190.30 225.44L190.80 226.81L191.30 228.00L191.80 229.16L192.30 230.22L192.80 230.52L193.30 231.18L193.80 230.98L194.30 231.02L194.80 230.04L195.30 228.96L195.80 228.27L196.30 228.08L196.80 227.79L197.30 227.60L197.80 228.02L198.30 228.56L198.80 229.84L199.30 230.99L199.80 231.88L200.30 233.14L200.80 232.65L201.30 232.76L201.80 232.00L202.30 230.54L202.80 228.83L203.30 225.83L203.80 223.47L204.30 221.21L204.80 219.06L205.30 217.25L205.80 216.08L206.30 216.08L206.80 215.90L207.30 216.89L207.80 218.65L208.30 220.29L208.80 221.70L209.30 222.71L209.80 223.68L210.30 224.08L210.80 223.79L211.30 223.05L211.80 221.94L212.30 219.82L212.80 217.48L213.30 215.35L213.80 213.37L214.30 212.42L214.80 210.84L215.30 211.14L215.80 211.27L216.30 212.48L216.80 214.02L217.30 216.52L217.80 218.39L218.30 221.03L218.80 221.98L219.30 223.34L219.80 224.61L220.30 225.02L220.80 224.83L221.30 224.11L221.80 224.33L222.30 223.59L222.80 223.14L223.30 222.76L223.80 223.21L224.30 223.51L224.80 224.54L225.30 225.66L225.80 227.29L226.30 228.25L226.80 229.46L227.30 230.69L227.80 231.07L228.30 231.18L228.80 230.91L229.30 230.63L229.80 229.54L230.30 228.96L230.80 228.57L231.30 227.70L231.80 227.26L232.30 227.36L232.80 228.21L233.30 228.79L233.80 229.79L234.30 231.07L234.80 231.97L235.30 233.04L235.80 232.73L236.30 232.99L236.80 231.49L237.30 230.10L237.80 228.16L238.30 225.68L238.80 223.28L239.30 220.51L239.80 218.14L240.30 217.01L240.80 215.74L241.30 215.71L241.80 216.45L242.30 217.19L242.80 218.50L243.30 219.99L243.80 221.74L244.30 223.08L244.80 223.64L245.30 224.33L245.80 223.66L246.30 222.92L246.80 221.21L247.30 219.56L247.80 217.39L248.30 215.10L248.80 213.25L249.30 212.01L249.80 211.47L250.30 211.34L250.80 211.78L251.30 213.06L251.80 215.05L252.30 216.37L252.80 218.94L253.30 220.61L253.80 222.80L254.30 223.69L254.80 224.58L255.30 224.70L255.80 224.85L256.30 224.62L256.80 224.27L257.30 223.10L257.80 222.90L258.30 223.74L258.80 223.36L259.30 223.79L259.80 224.87L260.30 225.39L260.80 227.65L261.30 228.64L261.80 229.44L262.30 230.86L262.80 230.96L263.30 230.96L263.80 231.00L264.30 230.38L264.80 229.42L265.30 228.70L265.80 227.73L266.30 227.25L266.80 227.64L267.30 228.00L267.80 228.44L268.30 229.35L268.80 230.28L269.30 231.43L269.80 232.18L270.30 233.33L270.80 232.90L271.30 232.60L271.80 231.40L272.30 229.41L272.80 227.99L273.30 225.06L273.80 222.47L274.30 220.31L274.80 218.09L275.30 216.83L275.80 215.80L276.30 216.01L276.80 216.43L277.30 217.21L277.80 219.18L278.30 220.61L278.80 221.87L279.30 223.43L279.80 224.20L280.30 224.66L280.80 223.57L281.30 222.80L281.80 220.94L282.30 219.08L282.80 216.73L283.30 214.71L283.80 213.09L284.30 211.48L284.80 210.67L285.30 211.20L285.80 211.87L286.30 213.34L286.80 215.25L287.30 217.11L287.80 219.51L288.30 221.18L288.80 222.84L289.30 224.19L289.80 224.85L290.30 224.94L290.80 224.82L291.30 224.20L291.80 223.68L292.30 223.32L292.80 223.14L293.30 222.84L293.80 223.45L294.30 224.39L294.80 225.45L295.30 226.24L295.80 227.81L296.30 229.00L296.80 230.13L297.30 230.93L297.80 231.27L298.30 231.34L298.80 230.84L299.30 230.11L299.80 229.43L300.30 228.68L300.80 228.18L301.30 227.60L301.80 227.64L302.30 228.13L302.80 228.32L303.30 229.44L303.80 230.72L304.30 231.68L304.80 232.32L305.30 233.23L305.80 232.97L306.30 232.13L306.80 231.52L307.30 229.05L307.80 227.11L308.30 224.51L308.80 222.19L309.30 219.98L309.80 217.78L310.30 216.59L310.80 215.91L311.30 215.73L311.80 216.86L312.30 217.82L312.80 219.22L313.30 220.76L313.80 222.33L314.30 223.59L314.80 224.10L315.30 224.49L315.80 223.03L316.30 221.87L316.80 220.53L317.30 218.12L317.80 216.36L318.30 214.21L318.80 212.82L319.30 211.66L319.80 211.37L320.30 211.51L320.80 212.47L321.30 213.77L321.80 215.74L322.30 217.69L322.80 219.53L323.30 221.28L323.80 222.84L324.30 224.30L324.80 224.29L325.30 225.00L325.80 224.57L326.30 224.42L326.80 223.74L327.30 223.05L327.80 222.94L328.30 222.48L328.80 223.44L329.30 224.25L329.80 224.83L330.30 226.69L330.80 227.82L331.30 229.14L331.80 229.84L332.30 230.99L332.80 231.31L333.30 231.11L333.80 230.48L334.30 230.18L334.80 229.48L335.30 228.51L335.80 228.03L336.30 227.36L336.80 227.55L337.30 228.02L337.80 228.73L338.30 230.32L338.80 230.92L339.30 231.75L339.80 232.85L340.30 232.82L340.80 232.99L341.30 232.32L341.80 230.70L342.30 228.85L342.80 226.44L343.30 224.19L343.80 221.54L344.30 219.83" fill="none" stroke="#4169e1" stroke-width="1.15" stroke-linejoin="round"/>
<path d="M65.30 306.11L65.80 304.34L66.30 303.13L66.80 303.61L67.30 303.87L67.80 304.67L68.30 306.01L68.80 307.61L69.30 309.04L69.80 310.86L70.30 311.37L70.80 311.29L71.30 311.09L71.80 309.65L72.30 308.79L72.80 306.85L73.30 304.92L73.80 302.90L74.30 300.45L74.80 299.35L75.30 298.73L75.80 298.62L76.30 298.97L76.80 300.50L77.30 302.15L77.80 304.35L78.30 306.15L78.80 308.09L79.30 309.73L79.80 311.04L80.30 311.77L80.80 312.19L81.30 312.28L81.80 311.88L82.30 311.52L82.80 310.93L83.30 310.46L83.80 309.97L84.30 310.60L84.80 311.36L85.30 311.79L85.80 313.04L86.30 314.41L86.80 315.70L87.30 317.01L87.80 317.72L88.30 318.49L88.80 318.23L89.30 318.17L89.80 317.50L90.30 316.63L90.80 316.25L91.30 315.34L91.80 314.99L92.30 314.69L92.80 315.18L93.30 315.79L93.80 316.55L94.30 317.30L94.80 317.25L95.30 316.02L95.80 314.35L96.30 312.31L96.80 309.65L97.30 306.42L97.80 302.36L98.30 298.29L98.80 293.82L99.30 289.00L99.80 284.44L100.30 280.93L100.80 277.07L101.30 276.05L101.80 275.89L102.30 275.96L102.80 277.31L103.30 279.02L103.80 280.96L104.30 281.78L104.80 283.31L105.30 284.63L105.80 284.52L106.30 283.95L106.80 282.99L107.30 281.04L107.80 279.02L108.30 277.05L108.80 275.02L109.30 272.86L109.80 272.18L110.30 270.86L110.80 271.17L111.30 272.74L111.80 273.32L112.30 275.36L112.80 277.05L113.30 279.29L113.80 281.14L114.30 282.84L114.80 284.26L115.30 285.21L115.80 285.25L116.30 285.24L116.80 284.36L117.30 284.23L117.80 283.52L118.30 283.37L118.80 282.95L119.30 283.32L119.80 284.37L120.30 285.23L120.80 286.37L121.30 287.53L121.80 288.95L122.30 290.17L122.80 291.01L123.30 291.13L123.80 291.19L124.30 290.99L124.80 290.02L125.30 289.67L125.80 288.67L126.30 287.98L126.80 287.10L127.30 287.23L127.80 287.69L128.30 288.49L128.80 289.35L129.30 290.77L129.80 291.79L130.30 292.57L130.80 292.67L131.30 293.37L131.80 292.38L132.30 291.33L132.80 289.27L133.30 287.20L133.80 284.89L134.30 282.30L134.80 280.16L135.30 278.01L135.80 277.13L136.30 276.70L136.80 279.90L137.30 283.21L137.80 284.32L138.30 283.14L138.80 279.49L139.30 275.88L139.80 271.85L140.30 271.29L140.80 272.85L141.30 276.60L141.80 280.85L142.30 283.53L142.80 284.83L143.30 284.58L143.80 283.20L144.30 283.17L144.80 283.65L145.30 285.84L145.80 288.21L146.30 290.56L146.80 291.15L147.30 290.51L147.80 288.73L148.30 287.94L148.80 287.58L149.30 288.61L149.80 291.48L150.30 292.90L150.80 292.57L151.30 290.72L151.80 285.72L152.30 280.54L152.80 277.02L153.30 276.03L153.80 277.29L154.30 280.61L154.80 283.46L155.30 284.20L155.80 282.99L156.30 279.59L156.80 275.12L157.30 271.93L157.80 271.41L158.30 273.19L158.80 276.52L159.30 280.79L159.80 283.81L160.30 285.00L160.80 284.40L161.30 283.76L161.80 282.79L162.30 283.65L162.80 286.10L163.30 288.22L163.80 290.48L164.30 291.41L164.80 290.10L165.30 288.62L165.80 287.89L166.30 287.90L166.80 289.38L167.30 291.61L167.80 292.89L168.30 292.67L168.80 289.76L169.30 285.78L169.80 280.49L170.30 276.84L170.80 275.97L171.30 277.61L171.80 280.37L172.30 283.27L172.80 284.68L173.30 282.41L173.80 278.91L174.30 275.04L174.80 272.15L175.30 271.08L175.80 273.72L176.30 277.17L176.80 281.64L177.30 284.21L177.80 284.99L178.30 284.61L178.80 283.50L179.30 282.86L179.80 284.52L180.30 286.25L180.80 289.20L181.30 290.73L181.80 290.85L182.30 290.01L182.80 288.64L183.30 287.76L183.80 288.29L184.30 289.60L184.80 291.70L185.30 292.84L185.80 292.43L186.30 289.48L186.80 284.26L187.30 280.23L187.80 276.95L188.30 276.53L188.80 277.67L189.30 281.00L189.80 283.65L190.30 284.02L190.80 282.23L191.30 278.40L191.80 274.55L192.30 271.75L192.80 271.69L193.30 273.65L193.80 277.37L194.30 281.73L194.80 284.36L195.30 285.19L195.80 284.62L196.30 283.17L196.80 283.23L197.30 284.02L197.80 286.62L198.30 289.34L198.80 290.92L199.30 291.25L199.80 289.80L200.30 288.37L200.80 287.60L201.30 287.76L201.80 289.61L202.30 292.48L202.80 293.19L203.30 292.06L203.80 288.77L204.30 284.53L204.80 278.92L205.30 276.43L205.80 276.24L206.30 275.81L206.80 276.32L207.30 276.86L207.80 278.42L208.30 280.01L208.80 281.60L209.30 283.01L209.80 283.96L210.30 284.59L210.80 284.05L211.30 283.09L211.80 281.68L212.30 279.78L212.80 277.39L213.30 275.18L213.80 273.41L214.30 272.29L214.80 271.21L215.30 271.07L215.80 272.27L216.30 273.03L216.80 274.37L217.30 276.25L217.80 278.78L218.30 280.34L218.80 282.55L219.30 283.78L219.80 284.86L220.30 284.82L220.80 285.16L221.30 284.23L221.80 284.06L222.30 283.78L222.80 283.28L223.30 282.57L223.80 283.30L224.30 283.80L224.80 284.60L225.30 285.63L225.80 287.04L226.30 288.30L226.80 289.82L227.30 290.64L227.80 291.33L228.30 291.41L228.80 290.77L229.30 290.53L229.80 290.22L230.30 288.70L230.80 288.27L231.30 287.53L231.80 287.32L232.30 287.74L232.80 288.46L233.30 289.31L233.80 290.31L234.30 291.53L234.80 291.94L235.30 293.12L235.80 293.21L236.30 292.70L236.80 291.73L237.30 289.97L237.80 288.35L238.30 285.55L238.80 282.89L239.30 280.80L239.80 278.59L240.30 277.12L240.80 276.51L240.10 279.53L241.05 276.81L242.00 279.65L242.95 276.71L243.90 279.70L244.85 276.71L245.80 279.65L246.75 276.81L247.70 279.53L248.65 276.93L249.60 279.42L250.55 277.00L251.50 279.41L252.45 276.96L253.40 279.49L254.35 276.85L255.30 279.61L256.25 276.74L257.20 279.69L258.15 276.70L259.10 279.68L260.05 276.77L261.00 279.57L261.95 276.89L262.90 279.45L263.85 276.99L264.80 279.40L265.75 276.99L266.70 279.45L267.65 276.89L268.60 279.57L269.55 276.77L270.50 279.67L271.45 276.70L272.40 279.69L273.35 276.73L274.30 279.62L275.25 276.85L276.20 279.49L277.15 276.96L278.10 279.41L279.05 277.00L280.00 279.42L280.95 276.93L281.90 279.52L282.85 276.81L283.80 279.64L284.75 276.72L285.70 279.70L286.65 276.71L287.60 279.65L288.55 276.80L289.50 279.53L290.30 284.99L290.80 284.89L291.30 284.92L291.80 283.57L292.30 283.44L292.80 283.28L293.30 283.32L293.80 283.81L294.30 283.89L294.80 285.18L295.30 286.28L295.80 287.54L296.30 288.77L296.80 289.71L297.30 290.88L297.80 291.38L298.30 290.99L298.80 291.03L299.30 290.10L299.80 289.21L300.30 288.07L300.80 288.22L301.30 287.74L301.80 287.47L302.30 287.80L302.80 288.30L303.30 289.67L303.80 290.65L304.30 291.85L304.80 292.64L305.30 292.77L305.80 292.71L306.30 292.50L306.80 290.81L307.30 289.45L307.80 287.37L308.30 284.44L308.80 282.37L309.30 279.94L309.80 278.14L310.30 276.55L310.80 276.00L311.30 276.11L311.80 277.08L312.30 278.01L312.80 279.47L313.30 280.69L313.80 282.54L314.30 283.48L314.80 284.26L315.30 284.36L315.80 283.87L316.30 282.54L316.80 280.70L317.30 278.59L317.80 276.74L318.30 274.24L318.80 272.78L319.30 271.95L319.80 271.13L320.30 271.57L320.80 272.47L321.30 274.16L321.80 275.84L322.30 277.30L322.80 279.74L323.30 281.70L323.80 283.36L324.30 284.36L324.80 285.30L325.30 285.28L325.80 284.55L326.30 284.20L326.80 283.33L327.30 283.66L327.80 282.98L328.30 283.01L328.80 283.10L329.30 284.12L329.80 285.39L330.30 286.48L330.80 287.82L331.30 289.03L331.80 290.64L332.30 290.80L332.80 290.93L333.30 291.06L333.80 290.67L334.30 290.05L334.80 289.21L335.30 288.23L335.80 287.82L336.30 287.62L336.80 287.26L337.30 288.42L337.80 289.12L338.30 289.36L338.80 290.79L339.30 292.14L339.80 293.01L340.30 293.49L340.80 292.55L341.30 291.95L341.80 290.73L342.30 289.08L342.80 286.45L343.30 284.29L343.80 281.83L344.30 279.65" fill="none" stroke="#4169e1" stroke-width="1.15" stroke-linejoin="round"/>
<path d="M382.30 77.00L384.00 76.60L385.50 77.00L386.40 76.80L387.50 27.50L388.60 76.80L390.00 76.50L393.00 77.00L396.00 76.60L397.30 76.80L398.40 60.80L399.50 76.80L401.00 76.60L402.60 76.90L403.70 49.20L404.80 76.90L406.50 76.80L409.00 76.50L409.60 76.81L410.30 76.67L411.00 76.64L411.70 77.17L412.40 77.08L413.10 76.73L413.80 77.20L414.50 76.96L415.20 76.43L415.90 77.11L416.60 76.85L417.30 76.43L418.00 77.08L418.70 76.78L419.40 76.76L420.10 77.11L420.80 76.13L421.50 76.45L422.20 76.75L422.90 76.99L423.60 76.67L424.30 76.55L425.00 76.53L425.70 76.86L426.40 77.14L427.10 76.39L427.80 76.17L428.50 76.80L429.20 76.77L429.90 76.58L430.60 77.11L431.30 77.18L432.00 76.70L432.70 76.78L433.40 77.10L434.10 76.75L434.80 76.41L435.50 76.88L436.20 76.58L436.90 77.01L437.60 76.72L438.30 76.83L439.00 77.08L439.70 76.86L440.40 76.68L441.10 76.55L441.80 77.20L442.50 77.20L443.20 76.37L443.90 76.53L444.60 77.10L445.30 76.69L446.00 76.91L446.70 77.18L447.40 76.95L448.10 76.85L448.80 76.73L449.50 76.87L450.20 77.04L450.90 77.20L451.60 77.20L452.30 76.83L453.00 77.20L453.70 76.94L454.40 76.38L455.10 76.86L455.80 77.20L456.50 76.69L457.20 77.20L457.90 76.79L458.60 76.91L459.30 76.48L460.00 77.20L460.70 77.06L461.40 77.20L462.10 76.74L462.80 76.39L463.50 77.20L464.20 76.65L464.90 77.20L465.60 76.84L466.30 77.20L467.00 76.64L467.70 76.28L468.40 77.14L469.10 76.88L469.80 76.90L470.50 77.20L471.20 76.59L471.90 76.45L472.60 76.49L473.30 76.31L474.00 76.27L474.70 76.45L475.40 76.56L476.10 76.74L476.80 76.47L477.50 76.85L478.20 77.16L478.90 76.81L479.60 77.03L480.30 76.56L481.00 76.98L481.70 77.04L482.40 76.65L483.10 76.33L483.80 76.80L484.50 76.86L485.20 77.20L485.90 76.71L486.60 77.20L487.30 76.01L488.00 76.74L488.70 76.67L489.40 76.71L490.10 76.65L490.80 76.82L491.50 77.20L492.20 76.78L492.90 77.20L493.60 76.80L494.30 76.87L495.00 76.01L495.70 76.86L496.40 77.04L497.10 76.44L497.80 76.62L498.50 76.54L499.20 77.20L499.90 76.49L500.60 76.58L501.30 75.89L502.00 76.28L502.70 76.90L503.40 76.39L504.10 75.87L504.80 76.73L505.50 76.86L506.20 76.92L506.90 76.95L507.60 76.61L508.30 77.20L509.00 76.63L509.70 76.98L510.40 76.39L511.10 76.61L511.80 76.30L512.50 76.90L513.20 76.69L513.90 76.48L514.60 76.13L515.30 77.02L516.00 77.11L516.70 77.11L517.40 76.80L518.10 77.07L518.80 77.14L519.50 77.01L520.20 77.20L520.90 76.78L521.60 76.91L522.30 76.31" fill="none" stroke="#4169e1" stroke-width="0.95" stroke-linejoin="round"/>
<path d="M382.50 135.30L384.00 133.80L385.50 134.80L386.50 130.00L387.50 88.70L388.60 122.00L389.50 132.00L391.00 126.00L392.50 114.50L394.00 122.00L395.20 131.00L396.50 129.00L397.50 124.00L398.30 117.00L399.20 128.00L400.50 130.00L401.80 131.00L402.80 120.00L403.70 107.80L404.70 128.00L405.60 135.80L408.00 136.00L410.00 136.30L412.00 135.50L413.50 133.00L415.50 130.30L417.00 135.50L419.00 134.60L421.00 135.20L423.00 134.50L424.50 132.00L426.30 125.30L427.80 133.00L429.00 136.20L431.00 136.40L431.30 136.80L432.00 136.71L432.70 136.44L433.40 136.72L434.10 136.80L434.80 136.80L435.50 135.95L436.20 136.80L436.90 136.66L437.60 136.47L438.30 136.15L439.00 136.80L439.70 136.06L440.40 136.70L441.10 136.80L441.80 135.94L442.50 136.39L443.20 136.04L443.90 136.59L444.60 136.80L445.30 136.80L446.00 135.88L446.70 136.30L447.40 136.75L448.10 136.80L448.80 136.65L449.50 136.24L450.20 136.60L450.90 136.49L451.60 136.43L452.30 136.24L453.00 136.64L453.70 136.61L454.40 136.47L455.10 136.42L455.80 136.05L456.50 136.33L457.20 136.80L457.90 136.43L458.60 136.00L459.30 136.80L460.00 136.69L460.70 136.80L461.40 136.52L462.10 136.34L462.80 135.99L463.50 136.80L464.20 136.80L464.90 136.21L465.60 136.27L466.30 136.71L467.00 136.21L467.70 136.41L468.40 136.38L469.10 136.57L469.80 136.80L470.50 136.51L471.20 136.80L471.90 136.35L472.60 136.61L473.30 135.75L474.00 135.99L474.70 136.78L475.40 136.29L476.10 136.70L476.80 136.69L477.50 136.80L478.20 136.78L478.90 136.80L479.60 136.46L480.30 136.26L481.00 136.24L481.70 136.33L482.40 136.10L483.10 136.31L483.80 136.47L484.50 136.59L485.20 136.38L485.90 135.83L486.60 136.47L487.30 136.58L488.00 136.80L488.70 136.70L489.40 136.27L490.10 136.25L490.80 136.80L491.50 136.76L492.20 136.80L492.90 136.80L493.60 136.21L494.30 136.63L495.00 136.66L495.70 136.70L496.40 136.69L497.10 136.57L497.80 136.56L498.50 135.97L499.20 136.44L499.90 136.24L500.60 136.54L501.30 136.34L502.00 136.72L502.70 136.79L503.40 136.61L504.10 136.61L504.80 136.53L505.50 136.34L506.20 136.44L506.90 136.33L507.60 136.64L508.30 136.50L509.00 136.70L509.70 136.03L510.40 136.80L511.10 136.23L511.80 136.24L512.50 136.43L513.20 136.30L513.90 136.60L514.60 136.30L515.30 136.13L516.00 136.20L516.70 136.80L517.40 136.52L518.10 136.09L518.80 136.50L519.50 135.96L520.20 136.80L520.90 135.97L521.60 136.67L522.30 136.69" fill="none" stroke="#4169e1" stroke-width="0.95" stroke-linejoin="round"/>
<path d="M382.50 188.00L384.00 188.50L386.00 191.00L387.50 148.80L388.70 190.00L390.00 195.00L392.00 197.00L394.00 197.20L396.00 195.50L397.30 191.00L398.30 183.80L399.50 194.50L401.00 195.00L402.60 188.00L403.70 172.20L404.80 192.00L406.50 197.50L409.00 197.80L411.00 197.20L411.70 198.20L412.40 197.85L413.10 198.11L413.80 198.11L414.50 197.76L415.20 197.22L415.90 197.78L416.60 198.09L417.30 197.77L418.00 198.05L418.70 198.20L419.40 197.71L420.10 198.20L420.80 198.20L421.50 198.20L422.20 198.20L422.90 198.20L423.60 198.20L424.30 197.97L425.00 197.90L425.70 198.11L426.40 197.58L427.10 197.36L427.80 197.59L428.50 198.03L429.20 198.07L429.90 197.36L430.60 197.24L431.30 197.79L432.00 197.83L432.70 197.88L433.40 198.13L434.10 198.20L434.80 197.98L435.50 198.11L436.20 197.52L436.90 197.49L437.60 197.98L438.30 198.13L439.00 198.15L439.70 198.11L440.40 198.17L441.10 198.18L441.80 197.29L442.50 197.64L443.20 198.06L443.90 198.11L444.60 197.37L445.30 198.20L446.00 197.75L446.70 197.82L447.40 198.00L448.10 198.16L448.80 197.40L449.50 198.20L450.20 197.93L450.90 197.63L451.60 197.80L452.30 197.13L453.00 197.67L453.70 197.96L454.40 197.65L455.10 197.79L455.80 197.85L456.50 197.92L457.20 198.20L457.90 197.89L458.60 197.81L459.30 198.09L460.00 198.20L460.70 197.78L461.40 198.08L462.10 197.35L462.80 198.20L463.50 198.13L464.20 198.20L464.90 197.88L465.60 197.54L466.30 198.20L467.00 198.16L467.70 197.60L468.40 197.38L469.10 198.06L469.80 197.84L470.50 198.20L471.20 197.69L471.90 197.72L472.60 197.86L473.30 197.32L474.00 197.59L474.70 198.20L475.40 197.85L476.10 197.69L476.80 197.45L477.50 198.10L478.20 198.13L478.90 197.99L479.60 197.76L480.30 198.01L481.00 198.03L481.70 197.66L482.40 198.12L483.10 197.16L483.80 197.45L484.50 197.79L485.20 197.86L485.90 197.49L486.60 198.02L487.30 198.20L488.00 198.06L488.70 197.98L489.40 198.19L490.10 198.04L490.80 197.50L491.50 197.83L492.20 198.20L492.90 197.50L493.60 197.92L494.30 197.76L495.00 197.59L495.70 197.55L496.40 197.94L497.10 198.01L497.80 198.01L498.50 197.39L499.20 197.80L499.90 198.02L500.60 198.20L501.30 198.14L502.00 198.19L502.70 198.20L503.40 198.19L504.10 197.61L504.80 197.92L505.50 197.65L506.20 197.07L506.90 197.31L507.60 198.20L508.30 197.51L509.00 197.12L509.70 197.70L510.40 198.20L511.10 197.88L511.80 198.04L512.50 197.81L513.20 197.87L513.90 198.20L514.60 198.18L515.30 197.87L516.00 198.20L516.70 198.20L517.40 197.82L518.10 197.99L518.80 197.99L519.50 197.67L520.20 198.20L520.90 197.84L521.60 197.68L522.30 197.31" fill="none" stroke="#4169e1" stroke-width="0.95" stroke-linejoin="round"/>
<path d="M382.50 219.00L384.50 235.00L386.00 247.30L387.50 209.80L388.50 252.00L390.00 246.00L391.50 250.00L392.50 253.00L393.50 249.00L395.00 254.00L396.50 252.50L397.40 250.00L398.30 241.50L399.30 253.00L400.50 255.00L402.00 253.00L402.80 248.00L403.70 233.20L404.70 254.00L406.00 257.50L408.00 257.00L410.00 258.30L413.00 257.70L416.00 258.40L416.60 258.60L417.30 258.29L418.00 258.52L418.70 258.26L419.40 258.60L420.10 258.53L420.80 258.60L421.50 258.42L422.20 258.60L422.90 258.17L423.60 258.18L424.30 258.09L425.00 258.51L425.70 258.08L426.40 258.07L427.10 258.55L427.80 258.60L428.50 258.50L429.20 257.36L429.90 257.97L430.60 257.92L431.30 257.88L432.00 258.16L432.70 258.60L433.40 258.19L434.10 258.04L434.80 258.54L435.50 258.32L436.20 258.34L436.90 258.06L437.60 258.30L438.30 258.45L439.00 257.63L439.70 257.74L440.40 258.60L441.10 258.60L441.80 258.12L442.50 257.94L443.20 258.24L443.90 257.88L444.60 258.18L445.30 258.60L446.00 258.35L446.70 258.60L447.40 258.22L448.10 258.43L448.80 258.60L449.50 257.83L450.20 258.18L450.90 258.25L451.60 258.40L452.30 258.60L453.00 258.54L453.70 257.78L454.40 258.21L455.10 257.99L455.80 257.98L456.50 258.60L457.20 257.93L457.90 258.38L458.60 258.05L459.30 258.60L460.00 258.42L460.70 258.34L461.40 258.27L462.10 258.60L462.80 257.97L463.50 258.05L464.20 257.91L464.90 258.60L465.60 258.20L466.30 257.94L467.00 258.15L467.70 258.60L468.40 258.26L469.10 258.60L469.80 258.46L470.50 258.30L471.20 258.06L471.90 258.18L472.60 258.18L473.30 257.53L474.00 258.60L474.70 258.60L475.40 258.34L476.10 258.23L476.80 258.02L477.50 258.60L478.20 258.23L478.90 258.47L479.60 257.81L480.30 258.43L481.00 258.60L481.70 258.20L482.40 258.58L483.10 258.31L483.80 258.60L484.50 258.60L485.20 258.32L485.90 258.10L486.60 258.40L487.30 258.31L488.00 258.08L488.70 258.46L489.40 258.45L490.10 257.99L490.80 258.26L491.50 258.60L492.20 258.59L492.90 258.33L493.60 258.60L494.30 258.14L495.00 257.43L495.70 257.63L496.40 257.77L497.10 258.39L497.80 258.60L498.50 257.54L499.20 258.60L499.90 257.87L500.60 258.39L501.30 258.46L502.00 258.45L502.70 258.30L503.40 258.36L504.10 257.90L504.80 258.40L505.50 258.60L506.20 258.60L506.90 258.60L507.60 258.60L508.30 258.55L509.00 258.60L509.70 258.38L510.40 257.85L511.10 257.52L511.80 258.60L512.50 258.50L513.20 258.60L513.90 258.18L514.60 258.42L515.30 258.60L516.00 258.42L516.70 257.91L517.40 258.15L518.10 258.60L518.80 257.92L519.50 257.40L520.20 257.50L520.90 257.83L521.60 258.58L522.30 258.33" fill="none" stroke="#4169e1" stroke-width="0.95" stroke-linejoin="round"/>
<path d="M382.50 270.30L383.50 278.00L384.20 283.00L385.00 287.00L386.00 295.00L386.80 290.00L387.50 289.00L388.50 307.00L389.30 300.00L390.30 304.00L391.00 308.00L392.50 297.00L393.50 310.00L394.30 306.00L395.20 304.00L396.50 313.00L397.50 310.00L398.30 304.00L399.50 313.00L401.00 310.00L402.20 314.00L403.70 305.00L405.00 316.00L407.00 314.50L409.00 318.00L410.50 316.50L412.00 317.00L413.50 315.00L415.00 313.20L416.50 317.50L418.50 316.50L420.50 318.00L422.00 316.00L424.00 314.00L426.30 312.20L427.50 316.00L429.00 318.20L431.00 318.60L431.30 318.90L432.00 318.44L432.70 318.58L433.40 318.52L434.10 318.16L434.80 318.69L435.50 318.90L436.20 318.30L436.90 318.89L437.60 318.40L438.30 318.90L439.00 318.90L439.70 318.47L440.40 317.90L441.10 318.48L441.80 318.11L442.50 318.14L443.20 318.51L443.90 318.90L444.60 318.57L445.30 318.52L446.00 317.95L446.70 318.39L447.40 318.11L448.10 318.78L448.80 318.42L449.50 318.58L450.20 318.59L450.90 318.53L451.60 318.90L452.30 318.77L453.00 318.49L453.70 318.65L454.40 318.79L455.10 318.90L455.80 318.65L456.50 318.90L457.20 318.39L457.90 318.52L458.60 318.08L459.30 318.89L460.00 318.24L460.70 318.24L461.40 318.89L462.10 318.41L462.80 318.34L463.50 318.90L464.20 318.54L464.90 318.90L465.60 318.46L466.30 318.85L467.00 318.90L467.70 318.63L468.40 318.90L469.10 318.46L469.80 318.53L470.50 318.63L471.20 318.90L471.90 318.50L472.60 318.45L473.30 318.69L474.00 318.90L474.70 318.45L475.40 318.15L476.10 318.55L476.80 318.82L477.50 318.41L478.20 318.64L478.90 317.95L479.60 318.61L480.30 318.64L481.00 318.82L481.70 318.71L482.40 318.87L483.10 318.25L483.80 318.83L484.50 318.02L485.20 318.39L485.90 318.90L486.60 318.90L487.30 317.95L488.00 318.81L488.70 318.45L489.40 318.33L490.10 318.67L490.80 318.65L491.50 318.90L492.20 318.10L492.90 318.45L493.60 318.55L494.30 317.96L495.00 318.90L495.70 318.90L496.40 318.38L497.10 318.73L497.80 318.51L498.50 318.69L499.20 318.36L499.90 318.89L500.60 318.19L501.30 318.90L502.00 318.72L502.70 318.90L503.40 318.02L504.10 318.57L504.80 318.15L505.50 318.55L506.20 318.75L506.90 318.28L507.60 318.10L508.30 317.99L509.00 318.68L509.70 318.90L510.40 318.90L511.10 318.61L511.80 318.26L512.50 318.47L513.20 318.07L513.90 318.05L514.60 318.90L515.30 318.50L516.00 318.71L516.70 318.50L517.40 318.90L518.10 318.90L518.80 318.33L519.50 318.47L520.20 318.36L520.90 318.90L521.60 318.90L522.30 318.50" fill="none" stroke="#4169e1" stroke-width="0.95" stroke-linejoin="round"/>
<path d="M438.30 57.15L438.92 56.37L439.54 58.17L440.16 58.04L440.78 58.21L441.40 58.93L442.02 60.02L442.64 58.27L443.26 59.15L443.88 58.78L444.50 57.59L445.12 59.77L445.74 55.42L446.36 58.35L446.98 57.31L447.60 55.85L448.22 58.45L448.84 60.21L449.46 57.21L450.08 57.10L450.70 56.26L451.32 58.82L451.94 58.80L452.56 58.32L453.18 55.87L453.80 58.04L454.42 58.68L455.04 59.74L455.66 60.20L456.28 58.12L456.90 56.17L457.52 56.88L458.14 56.15L458.76 57.99L459.38 57.52L460.00 59.16L460.62 58.92L461.24 58.89L461.86 58.95L462.48 57.18L463.10 56.62L463.72 60.63L464.34 59.98L464.96 59.39L465.58 57.19L466.20 55.74L466.82 56.44L467.44 57.52L468.06 59.10L468.68 58.90L469.30 59.46L469.92 59.63L470.54 58.83L471.16 58.43L471.78 58.19L472.40 57.94L473.02 57.16L473.64 58.59L474.26 58.02L474.88 57.68L475.50 57.25L476.12 59.08L476.74 59.61L477.36 58.45L477.98 58.52L478.60 57.56L479.22 57.05L479.84 57.95L480.46 58.40L481.08 56.56L481.70 58.55L482.32 59.64L482.94 57.30L483.56 59.09L484.18 57.79L484.80 58.04L485.42 55.81L486.04 54.99L486.66 59.31L487.28 56.82L487.90 58.53L488.52 57.56L489.14 58.67L489.76 59.41L490.38 58.06L491.00 52.67L491.62 56.88L492.24 59.57L492.86 60.80L493.48 57.20L494.10 57.82L494.72 56.16L495.34 59.11L495.96 55.55L496.58 57.23L497.20 58.83L497.82 57.69L498.44 57.45L499.06 58.85L499.68 55.70L500.30 57.07L500.92 57.80L501.54 57.79L502.16 58.04L502.78 60.70L503.40 57.89L504.02 58.77L504.64 57.71L505.26 57.75L505.88 56.81L506.50 58.04L507.12 59.63L507.74 57.75L508.36 59.91L508.98 57.11L509.60 57.11L510.22 59.41L510.84 55.09L511.46 56.19L512.08 57.26L512.70 58.64L513.32 58.40L513.94 58.15L514.56 56.44L515.18 59.52L515.80 58.98L516.42 55.90L517.04 58.15L517.66 59.17L518.28 58.26L518.90 56.87L519.52 57.26L520.14 58.11" fill="none" stroke="#4169e1" stroke-width="0.8" stroke-linejoin="round"/>
<rect x="432.0" y="33.00" width="94.2" height="31.30" rx="2.2" ry="2.2" fill="none" stroke="#56647f" stroke-width="1.6" stroke-dasharray="5.1 2.3"/>
<line x1="432.0" y1="64.30" x2="437.9" y2="78.90" stroke="#333" stroke-width="1.2" stroke-dasharray="4 1.2"/>
<line x1="526.2" y1="64.30" x2="522.6" y2="78.90" stroke="#333" stroke-width="1.2" stroke-dasharray="4 1.2"/>
<path d="M438.30 120.56L438.92 120.86L439.54 121.15L440.16 117.12L440.78 119.47L441.40 120.61L442.02 119.49L442.64 121.25L443.26 117.03L443.88 122.13L444.50 122.16L445.12 118.60L445.74 118.88L446.36 119.36L446.98 119.17L447.60 120.80L448.22 118.86L448.84 118.69L449.46 120.44L450.08 121.19L450.70 118.12L451.32 120.06L451.94 118.72L452.56 121.40L453.18 121.36L453.80 120.71L454.42 119.94L455.04 117.85L455.66 119.28L456.28 118.11L456.90 120.61L457.52 121.99L458.14 120.80L458.76 119.54L459.38 120.71L460.00 118.16L460.62 120.02L461.24 119.62L461.86 120.29L462.48 117.35L463.10 120.16L463.72 120.74L464.34 119.39L464.96 119.69L465.58 120.20L466.20 117.88L466.82 120.51L467.44 119.61L468.06 118.35L468.68 120.21L469.30 118.13L469.92 118.92L470.54 118.67L471.16 118.91L471.78 118.77L472.40 118.08L473.02 118.77L473.64 118.39L474.26 121.19L474.88 119.42L475.50 119.45L476.12 120.84L476.74 120.32L477.36 119.54L477.98 118.08L478.60 120.20L479.22 119.63L479.84 120.54L480.46 119.02L481.08 118.60L481.70 117.46L482.32 120.20L482.94 118.40L483.56 119.39L484.18 120.57L484.80 118.00L485.42 119.78L486.04 120.13L486.66 116.65L487.28 119.59L487.90 121.16L488.52 121.11L489.14 118.21L489.76 120.89L490.38 120.29L491.00 118.79L491.62 117.91L492.24 119.00L492.86 121.27L493.48 119.69L494.10 118.47L494.72 120.12L495.34 119.99L495.96 118.37L496.58 119.43L497.20 120.36L497.82 117.17L498.44 120.06L499.06 118.41L499.68 119.96L500.30 120.15L500.92 119.09L501.54 119.10L502.16 119.56L502.78 121.10L503.40 118.44L504.02 117.91L504.64 119.84L505.26 120.48L505.88 119.87L506.50 118.93L507.12 120.03L507.74 118.98L508.36 121.75L508.98 121.30L509.60 121.86L510.22 115.67L510.84 119.46L511.46 118.71L512.08 117.96L512.70 118.03L513.32 120.54L513.94 118.69L514.56 119.40L515.18 121.16L515.80 119.04L516.42 119.91L517.04 119.92L517.66 118.87L518.28 119.69L518.90 120.22L519.52 119.15L520.14 119.25" fill="none" stroke="#4169e1" stroke-width="0.8" stroke-linejoin="round"/>
<rect x="432.0" y="94.20" width="94.2" height="31.10" rx="2.2" ry="2.2" fill="none" stroke="#56647f" stroke-width="1.6" stroke-dasharray="5.1 2.3"/>
<line x1="432.0" y1="125.30" x2="437.9" y2="140.30" stroke="#333" stroke-width="1.2" stroke-dasharray="4 1.2"/>
<line x1="526.2" y1="125.30" x2="522.6" y2="140.30" stroke="#333" stroke-width="1.2" stroke-dasharray="4 1.2"/>
<path d="M438.30 178.25L438.92 176.41L439.54 178.83L440.16 176.80L440.78 178.90L441.40 176.14L442.02 177.14L442.64 177.40L443.26 176.06L443.88 179.42L444.50 176.96L445.12 176.05L445.74 177.74L446.36 177.95L446.98 174.68L447.60 176.64L448.22 178.83L448.84 177.51L449.46 175.94L450.08 178.41L450.70 177.79L451.32 174.78L451.94 176.10L452.56 180.05L453.18 177.42L453.80 178.18L454.42 176.10L455.04 178.17L455.66 174.08L456.28 170.21L456.90 173.09L457.52 167.04L458.14 162.84L458.76 168.46L459.38 166.26L460.00 172.10L460.62 173.64L461.24 172.06L461.86 175.22L462.48 173.32L463.10 178.91L463.72 175.69L464.34 176.71L464.96 178.82L465.58 175.66L466.20 179.18L466.82 178.72L467.44 180.19L468.06 178.59L468.68 179.29L469.30 178.29L469.92 177.15L470.54 178.67L471.16 177.35L471.78 178.70L472.40 179.25L473.02 178.62L473.64 176.58L474.26 179.82L474.88 177.79L475.50 179.60L476.12 178.24L476.74 178.04L477.36 179.55L477.98 178.14L478.60 178.02L479.22 178.58L479.84 179.86L480.46 176.12L481.08 178.09L481.70 176.76L482.32 180.46L482.94 178.82L483.56 178.67L484.18 178.95L484.80 178.65L485.42 178.09L486.04 178.71L486.66 180.04L487.28 178.00L487.90 178.71L488.52 179.28L489.14 179.58L489.76 178.60L490.38 177.60L491.00 178.21L491.62 177.65L492.24 177.24L492.86 178.09L493.48 179.06L494.10 178.21L494.72 180.06L495.34 178.64L495.96 178.02L496.58 177.57L497.20 176.98L497.82 178.37L498.44 178.68L499.06 178.62L499.68 175.70L500.30 174.69L500.92 179.19L501.54 177.72L502.16 178.31L502.78 179.33L503.40 178.46L504.02 178.48L504.64 177.81L505.26 179.73L505.88 177.03L506.50 177.66L507.12 179.17L507.74 179.57L508.36 179.39L508.98 179.74L509.60 179.78L510.22 177.60L510.84 178.35L511.46 178.12L512.08 178.40L512.70 179.50L513.32 180.07L513.94 178.73L514.56 180.03L515.18 178.30L515.80 179.09L516.42 177.97L517.04 178.32L517.66 177.48L518.28 180.05L518.90 176.51L519.52 178.43L520.14 177.20" fill="none" stroke="#4169e1" stroke-width="0.8" stroke-linejoin="round"/>
<rect x="432.0" y="154.70" width="94.2" height="30.80" rx="2.2" ry="2.2" fill="none" stroke="#56647f" stroke-width="1.6" stroke-dasharray="5.1 2.3"/>
<line x1="432.0" y1="185.50" x2="437.9" y2="201.60" stroke="#333" stroke-width="1.2" stroke-dasharray="4 1.2"/>
<line x1="526.2" y1="185.50" x2="522.6" y2="201.60" stroke="#333" stroke-width="1.2" stroke-dasharray="4 1.2"/>
<path d="M438.30 228.18L438.92 229.03L439.54 227.59L440.16 226.64L440.78 229.90L441.40 231.22L442.02 234.71L442.64 230.97L443.26 230.91L443.88 230.32L444.50 233.86L445.12 231.06L445.74 228.13L446.36 235.07L446.98 233.52L447.60 230.48L448.22 235.11L448.84 233.07L449.46 233.08L450.08 235.28L450.70 237.46L451.32 232.83L451.94 231.85L452.56 235.46L453.18 237.24L453.80 234.18L454.42 235.37L455.04 235.42L455.66 231.30L456.28 237.47L456.90 235.51L457.52 232.80L458.14 234.81L458.76 233.28L459.38 236.16L460.00 233.11L460.62 232.00L461.24 237.68L461.86 230.36L462.48 235.76L463.10 232.63L463.72 230.24L464.34 235.72L464.96 234.05L465.58 231.02L466.20 231.77L466.82 234.05L467.44 232.68L468.06 226.50L468.68 239.51L469.30 237.15L469.92 237.27L470.54 235.07L471.16 226.05L471.78 232.73L472.40 233.33L473.02 233.37L473.64 230.76L474.26 234.94L474.88 238.24L475.50 234.75L476.12 234.65L476.74 232.04L477.36 237.94L477.98 235.46L478.60 232.88L479.22 234.12L479.84 231.89L480.46 233.57L481.08 236.97L481.70 235.32L482.32 234.86L482.94 232.60L483.56 234.92L484.18 230.73L484.80 237.71L485.42 230.44L486.04 235.95L486.66 235.32L487.28 236.61L487.90 234.86L488.52 236.10L489.14 231.40L489.76 232.31L490.38 231.08L491.00 232.71L491.62 231.25L492.24 236.27L492.86 234.11L493.48 233.54L494.10 231.86L494.72 232.23L495.34 230.31L495.96 232.35L496.58 234.99L497.20 236.33L497.82 234.84L498.44 232.07L499.06 233.98L499.68 230.27L500.30 233.76L500.92 233.54L501.54 234.59L502.16 232.99L502.78 233.89L503.40 231.87L504.02 230.88L504.64 233.43L505.26 232.78L505.88 233.60L506.50 235.55L507.12 233.62L507.74 229.24L508.36 230.05L508.98 232.47L509.60 232.72L510.22 234.05L510.84 234.77L511.46 232.64L512.08 237.13L512.70 236.15L513.32 232.71L513.94 233.66L514.56 236.06L515.18 230.82L515.80 231.89L516.42 234.76L517.04 233.29L517.66 232.26L518.28 234.73L518.90 234.30L519.52 231.06L520.14 236.96" fill="none" stroke="#4169e1" stroke-width="0.8" stroke-linejoin="round"/>
<rect x="432.0" y="215.10" width="94.2" height="31.10" rx="2.2" ry="2.2" fill="none" stroke="#56647f" stroke-width="1.6" stroke-dasharray="5.1 2.3"/>
<line x1="432.0" y1="246.20" x2="437.9" y2="262.50" stroke="#333" stroke-width="1.2" stroke-dasharray="4 1.2"/>
<line x1="526.2" y1="246.20" x2="522.6" y2="262.50" stroke="#333" stroke-width="1.2" stroke-dasharray="4 1.2"/>
<path d="M438.30 295.57L438.92 297.45L439.54 297.35L440.16 296.27L440.78 295.94L441.40 296.68L442.02 296.11L442.64 296.88L443.26 297.24L443.88 296.63L444.50 297.09L445.12 293.49L445.74 296.98L446.36 293.29L446.98 295.56L447.60 296.26L448.22 295.21L448.84 293.74L449.46 294.03L450.08 294.75L450.70 293.69L451.32 294.96L451.94 296.70L452.56 294.81L453.18 294.89L453.80 296.69L454.42 297.14L455.04 296.20L455.66 295.40L456.28 296.13L456.90 293.59L457.52 296.69L458.14 296.71L458.76 295.83L459.38 295.86L460.00 296.25L460.62 297.08L461.24 295.59L461.86 294.69L462.48 296.42L463.10 295.68L463.72 296.44L464.34 295.80L464.96 294.19L465.58 296.36L466.20 296.44L466.82 294.69L467.44 293.90L468.06 296.59L468.68 291.94L469.30 293.50L469.92 297.22L470.54 294.77L471.16 297.92L471.78 291.58L472.40 293.29L473.02 296.64L473.64 292.79L474.26 297.09L474.88 291.71L475.50 294.65L476.12 295.54L476.74 295.84L477.36 295.91L477.98 292.19L478.60 296.81L479.22 293.63L479.84 297.00L480.46 294.94L481.08 292.54L481.70 298.74L482.32 300.75L482.94 291.44L483.56 287.86L484.18 289.57L484.80 285.92L485.42 281.42L486.04 287.09L486.66 283.75L487.28 289.60L487.90 292.33L488.52 289.98L489.14 298.55L489.76 295.58L490.38 296.19L491.00 293.66L491.62 296.10L492.24 299.11L492.86 297.83L493.48 294.69L494.10 296.55L494.72 296.66L495.34 295.33L495.96 293.52L496.58 294.94L497.20 294.58L497.82 296.38L498.44 295.64L499.06 298.29L499.68 296.81L500.30 295.69L500.92 296.30L501.54 294.95L502.16 296.90L502.78 294.35L503.40 295.99L504.02 296.35L504.64 296.09L505.26 295.83L505.88 296.54L506.50 296.61L507.12 293.71L507.74 295.64L508.36 295.91L508.98 295.59L509.60 296.25L510.22 296.64L510.84 296.31L511.46 295.74L512.08 297.35L512.70 296.61L513.32 295.55L513.94 298.22L514.56 296.87L515.18 295.42L515.80 296.87L516.42 294.46L517.04 296.40L517.66 294.60L518.28 297.36L518.90 294.03L519.52 296.09L520.14 296.74" fill="none" stroke="#4169e1" stroke-width="0.8" stroke-linejoin="round"/>
<rect x="432.0" y="276.70" width="94.2" height="31.10" rx="2.2" ry="2.2" fill="none" stroke="#56647f" stroke-width="1.6" stroke-dasharray="5.1 2.3"/>
<line x1="432.0" y1="307.80" x2="437.9" y2="322.70" stroke="#333" stroke-width="1.2" stroke-dasharray="4 1.2"/>
<line x1="526.2" y1="307.80" x2="522.6" y2="322.70" stroke="#333" stroke-width="1.2" stroke-dasharray="4 1.2"/>
<text x="193.3" y="333.8" font-family="Liberation Sans" font-size="10" textLength="23.7" lengthAdjust="spacingAndGlyphs">Time</text>
<text x="426.7" y="333.6" font-family="Liberation Sans" font-size="10" textLength="50.6" lengthAdjust="spacingAndGlyphs">Frequency</text>
<text x="84.8" y="381.5" font-family="Liberation Serif" font-size="25.5" textLength="368.5" lengthAdjust="spacingAndGlyphs">(a) Different subsequence anomalies.</text>
<rect x="12.10" y="412.20" width="171.20" height="84.40" fill="none" stroke="#ebebeb" stroke-width="0.8"/>
<rect x="81.60" y="412.20" width="31.70" height="84.40" fill="#fccccc"/>
<rect x="113.30" y="412.20" width="31.10" height="84.40" fill="#cee5ca"/>
<rect x="144.40" y="412.20" width="38.90" height="84.40" fill="#c8dcef"/>
<line x1="54.85" y1="412.20" x2="54.85" y2="496.60" stroke="#eeeeee" stroke-width="0.6" stroke-dasharray="1.5 1.5"/>
<line x1="81.60" y1="412.20" x2="81.60" y2="496.60" stroke="#5a606e" stroke-width="0.85" stroke-dasharray="2.6 1.0"/>
<line x1="113.30" y1="412.20" x2="113.30" y2="496.60" stroke="#5a606e" stroke-width="0.85" stroke-dasharray="2.6 1.0"/>
<line x1="144.40" y1="412.20" x2="144.40" y2="496.60" stroke="#5a606e" stroke-width="0.85" stroke-dasharray="2.6 1.0"/>
<path d="M20.30 415.00L20.90 461.00L21.50 458.00L22.10 466.00L23.30 473.00L23.55 472.37L24.60 473.36L25.65 470.67L26.70 482.29L27.75 477.72L28.80 474.61L29.85 482.68L30.90 481.06L31.95 481.41L33.00 477.01L34.05 482.47L35.10 479.92L36.15 481.47L37.20 477.13L38.25 482.11L39.30 483.30L40.35 485.80L41.40 485.31L42.45 479.68L43.50 483.18L44.55 485.72L45.60 481.04L46.65 480.55L47.70 483.59L48.75 486.13L49.80 488.75L50.85 483.56L51.90 488.76L52.95 488.75L54.00 489.08L55.05 488.50L56.10 490.61L57.15 489.69L58.20 486.70L59.25 485.83L60.30 487.98L61.35 491.90L62.40 487.23L63.45 488.36L64.50 487.21L65.55 486.72L66.60 486.10L67.65 493.24L68.70 487.01L69.75 488.27L70.80 488.32L71.85 490.22L72.90 487.56L73.95 488.12L75.00 489.22L76.05 489.77L77.10 487.65L78.15 489.41L79.20 492.00L80.25 489.16L81.30 488.56L82.35 490.48L83.40 491.00L84.45 490.17L85.50 489.40L86.55 490.12L87.60 489.78L88.65 490.42L89.70 491.26L90.75 488.55L91.80 490.44L92.85 488.65L93.90 489.80L94.95 490.52L96.00 492.35L97.05 490.19L98.10 490.97L99.15 489.71L100.20 489.94L101.25 490.74L102.30 488.71L103.35 490.16L104.40 488.79L105.45 492.41L106.50 489.58L107.55 490.13L108.60 489.27L109.65 490.32L110.70 490.65L111.75 490.42L112.80 491.66L113.85 492.58L114.90 489.90L115.95 490.35L117.00 488.43L118.05 489.36L119.10 491.03L120.15 490.06L121.20 489.89L122.25 490.14L123.30 490.41L124.35 491.62L125.40 490.53L126.45 491.65L127.50 492.24L128.55 491.42L129.60 490.52L130.65 489.32L131.70 491.73L132.75 492.13L133.80 491.13L134.85 488.75L135.90 490.20L136.95 489.69L138.00 490.25L139.05 492.76L140.10 491.28L141.15 491.93L142.20 489.97L143.25 491.74L144.30 492.10L145.35 491.44L146.40 490.65L147.45 490.99L148.50 489.82L149.55 490.13L150.60 488.79L151.65 490.63L152.70 491.12L153.75 490.79L154.80 490.29L155.85 490.75L156.90 491.22L157.95 491.63L159.00 491.86L160.05 491.53L161.10 491.14L162.15 491.51L163.20 490.91L164.25 491.09L165.30 491.88L166.35 490.65L167.40 490.74L168.45 490.62L169.50 491.37L170.55 490.45L171.60 492.62L172.65 490.71L173.70 491.15L174.75 492.33L175.80 492.17" fill="none" stroke="#000" stroke-width="1.05" stroke-linejoin="round"/>
<path d="M82.00 457.91L82.90 453.55L83.80 452.47L84.70 460.16L85.60 443.94L86.50 460.65L87.40 458.80L88.30 450.53L89.20 454.27L90.10 441.74L91.00 457.45L91.90 460.41L92.80 457.32L93.70 458.76L94.60 443.56L95.50 459.30L96.40 451.80L97.30 460.34L98.20 448.75L99.10 449.31L100.00 440.51L100.90 444.64L101.80 441.88L102.70 458.73L103.60 460.25L104.50 459.21L105.40 444.00L106.30 442.56L107.20 457.92L108.10 454.21L109.00 443.44L109.90 451.59L110.80 457.57L111.70 459.38L112.60 460.27L113.50 455.05L114.40 457.13L115.30 458.37L116.20 454.47L117.10 455.57L118.00 455.97L118.90 454.01L119.80 455.21L120.70 455.26L121.60 458.22L122.50 456.09L123.40 456.05L124.30 457.63L125.20 453.33L126.10 456.80L127.00 456.08L127.90 456.83L128.80 457.61L129.70 456.64L130.60 455.73L131.50 458.44L132.40 458.13L133.30 457.81L134.20 452.98L135.10 456.51L136.00 456.49L136.90 456.94L137.80 456.27L138.70 456.12L139.60 457.29L140.50 452.77L141.40 457.53L142.30 456.18L143.20 456.20L144.10 455.07L145.00 452.69L145.90 455.21L146.80 450.09L147.70 452.88L148.60 457.73L149.50 455.95L150.40 458.02L151.30 448.80L152.20 454.55L153.10 458.85L154.00 453.82L154.90 452.85L155.80 458.30L156.70 456.45L157.60 454.12L158.50 456.27L159.40 453.00L160.30 452.95L161.20 450.43L162.10 440.00L163.00 435.20L163.90 447.00L164.80 457.14L165.70 458.96L166.60 457.26L167.50 442.30L168.40 450.39L169.30 453.15L170.20 454.43L171.10 457.65L172.00 458.28L172.90 458.86" fill="none" stroke="#000" stroke-width="0.9" stroke-linejoin="round"/>
<rect x="74.40" y="430.4" width="106.70" height="38.5" rx="3" ry="3" fill="none" stroke="#3e4d6c" stroke-width="1.1" stroke-dasharray="4.3 2.1"/>
<line x1="74.40" y1="468.9" x2="81.60" y2="496.60" stroke="#444" stroke-width="1.0" stroke-dasharray="3.5 1.2"/>
<line x1="181.10" y1="468.9" x2="175.60" y2="496.60" stroke="#444" stroke-width="1.0" stroke-dasharray="3.5 1.2"/>
<text x="69.80" y="508.9" font-family="Liberation Sans" font-size="10" textLength="54.5" lengthAdjust="spacingAndGlyphs">Frequency</text>
<rect x="15.90" y="415.5" width="61.80" height="12.8" rx="1.5" fill="#fff" fill-opacity="0.8" stroke="#dddddd" stroke-width="0.7"/>
<line x1="18.30" y1="421.4" x2="33.80" y2="421.4" stroke="#000" stroke-width="1.1"/>
<text x="38.60" y="424.2" font-family="Liberation Sans" font-size="7.6" fill="#1a1a1a" textLength="35.4" lengthAdjust="spacingAndGlyphs">Channel 1</text>
<rect x="191.00" y="412.20" width="170.10" height="84.40" fill="none" stroke="#ebebeb" stroke-width="0.8"/>
<rect x="259.30" y="412.20" width="31.80" height="84.40" fill="#fccccc"/>
<rect x="291.10" y="412.20" width="31.60" height="84.40" fill="#cee5ca"/>
<rect x="322.70" y="412.20" width="38.40" height="84.40" fill="#c8dcef"/>
<line x1="233.15" y1="412.20" x2="233.15" y2="496.60" stroke="#eeeeee" stroke-width="0.6" stroke-dasharray="1.5 1.5"/>
<line x1="259.30" y1="412.20" x2="259.30" y2="496.60" stroke="#5a606e" stroke-width="0.85" stroke-dasharray="2.6 1.0"/>
<line x1="291.10" y1="412.20" x2="291.10" y2="496.60" stroke="#5a606e" stroke-width="0.85" stroke-dasharray="2.6 1.0"/>
<line x1="322.70" y1="412.20" x2="322.70" y2="496.60" stroke="#5a606e" stroke-width="0.85" stroke-dasharray="2.6 1.0"/>
<line x1="191.5" y1="412.20" x2="191.5" y2="496.60" stroke="#000" stroke-width="1.1"/>
<path d="M197.60 415.00L198.20 461.00L198.80 456.00L199.40 466.00L199.80 470.23L200.85 471.51L201.90 470.92L202.95 479.07L204.00 477.57L205.05 476.61L206.10 478.46L207.15 484.61L208.20 481.28L209.25 478.60L210.30 482.24L211.35 480.67L212.40 482.57L213.45 489.72L214.50 480.44L215.55 481.94L216.60 488.01L217.65 481.83L218.70 486.72L219.75 484.70L220.80 479.84L221.85 489.87L222.90 481.57L223.95 484.14L225.00 484.94L226.05 490.53L227.10 488.51L228.15 484.80L229.20 488.19L230.25 490.97L231.30 485.01L232.35 481.45L233.40 488.56L234.45 489.35L235.50 487.45L236.55 484.76L237.60 487.79L238.65 490.27L239.70 487.01L240.75 490.41L241.80 488.81L242.85 490.66L243.90 484.32L244.95 489.29L246.00 487.45L247.05 489.84L248.10 486.10L249.15 486.70L250.20 489.29L251.25 490.89L252.30 488.80L253.35 487.10L254.40 492.65L255.45 488.85L256.50 490.68L257.55 491.09L258.60 489.06L259.65 490.53L260.70 487.39L261.75 487.31L262.80 489.51L263.85 488.85L264.90 489.88L265.95 489.54L267.00 491.69L268.05 489.10L269.10 486.48L270.15 489.64L271.20 489.62L272.25 493.50L273.30 492.63L274.35 489.97L275.40 487.63L276.45 491.36L277.50 489.66L278.55 487.06L279.60 489.37L280.65 489.19L281.70 491.57L282.75 491.12L283.80 488.55L284.85 488.53L285.90 488.08L286.95 492.24L288.00 491.11L289.05 491.48L290.10 491.61L291.15 490.71L292.20 489.89L293.25 489.82L294.30 490.95L295.35 489.83L296.40 490.13L297.45 490.68L298.50 490.11L299.55 490.49L300.60 488.19L301.65 490.37L302.70 491.37L303.75 491.62L304.80 492.13L305.85 489.65L306.90 490.43L307.95 491.66L309.00 491.94L310.05 488.74L311.10 491.82L312.15 491.33L313.20 489.28L314.25 491.76L315.30 491.68L316.35 489.89L317.40 489.54L318.45 491.24L319.50 491.08L320.55 490.49L321.60 491.38L322.65 490.66L323.70 490.54L324.75 491.95L325.80 490.37L326.85 490.96L327.90 490.73L328.95 491.20L330.00 491.14L331.05 491.29L332.10 490.50L333.15 491.44L334.20 491.26L335.25 491.09L336.30 490.76L337.35 492.05L338.40 491.10L339.45 490.52L340.50 491.54L341.55 490.12L342.60 491.48L343.65 491.93L344.70 490.26L345.75 489.72L346.80 490.49L347.85 489.10L348.90 491.73L349.95 490.46L351.00 491.89L352.05 492.22L353.10 491.58L354.15 491.70" fill="none" stroke="#000" stroke-width="1.05" stroke-linejoin="round"/>
<path d="M259.70 456.72L260.60 445.65L261.50 456.92L262.40 460.87L263.30 459.00L264.20 454.72L265.10 444.01L266.00 456.04L266.90 461.05L267.80 441.21L268.70 453.47L269.60 441.78L270.50 460.80L271.40 446.09L272.30 455.56L273.20 456.36L274.10 445.05L275.00 456.55L275.90 460.95L276.80 444.73L277.70 456.56L278.60 449.64L279.50 458.15L280.40 441.67L281.30 448.57L282.20 453.76L283.10 456.91L284.00 446.39L284.90 458.07L285.80 459.57L286.70 460.24L287.60 456.89L288.50 459.28L289.40 460.70L290.30 452.88L291.20 455.26L292.10 459.42L293.00 455.01L293.90 458.02L294.80 453.62L295.70 454.89L296.60 453.67L297.50 453.13L298.40 457.23L299.30 455.62L300.20 454.18L301.10 455.68L302.00 459.18L302.90 455.50L303.80 455.79L304.70 452.47L305.60 459.24L306.50 457.23L307.40 454.60L308.30 457.49L309.20 455.02L310.10 459.28L311.00 458.68L311.90 457.01L312.80 455.24L313.70 455.84L314.60 459.62L315.50 458.55L316.40 457.74L317.30 454.33L318.20 459.07L319.10 454.83L320.00 453.24L320.90 453.39L321.80 455.95L322.70 453.78L323.60 455.30L324.50 454.20L325.40 453.38L326.30 455.10L327.20 450.31L328.10 453.88L329.00 451.84L329.90 456.71L330.80 456.81L331.70 449.53L332.60 450.40L333.50 454.98L334.40 458.40L335.30 454.84L336.20 453.92L337.10 455.40L338.00 452.35L338.90 458.43L339.80 458.58L340.70 449.35L341.60 451.61L342.50 458.48L343.40 458.79L344.30 455.84L345.20 453.53L346.10 458.28L347.00 458.92L347.90 449.73L348.80 449.51L349.70 457.23L350.60 455.54" fill="none" stroke="#000" stroke-width="0.9" stroke-linejoin="round"/>
<rect x="251.80" y="430.4" width="107.10" height="38.5" rx="3" ry="3" fill="none" stroke="#3e4d6c" stroke-width="1.1" stroke-dasharray="4.3 2.1"/>
<line x1="251.80" y1="468.9" x2="259.30" y2="496.60" stroke="#444" stroke-width="1.0" stroke-dasharray="3.5 1.2"/>
<line x1="358.90" y1="468.9" x2="353.30" y2="496.60" stroke="#444" stroke-width="1.0" stroke-dasharray="3.5 1.2"/>
<text x="247.00" y="508.9" font-family="Liberation Sans" font-size="10" textLength="54.5" lengthAdjust="spacingAndGlyphs">Frequency</text>
<rect x="193.60" y="415.5" width="61.40" height="12.8" rx="1.5" fill="#fff" fill-opacity="0.8" stroke="#dddddd" stroke-width="0.7"/>
<line x1="196.00" y1="421.4" x2="211.50" y2="421.4" stroke="#000" stroke-width="1.1"/>
<text x="216.30" y="424.2" font-family="Liberation Sans" font-size="7.6" fill="#1a1a1a" textLength="35.4" lengthAdjust="spacingAndGlyphs">Channel 2</text>
<rect x="368.30" y="412.20" width="169.90" height="84.40" fill="none" stroke="#ebebeb" stroke-width="0.8"/>
<rect x="437.30" y="412.20" width="31.10" height="84.40" fill="#fccccc"/>
<rect x="468.40" y="412.20" width="32.00" height="84.40" fill="#cee5ca"/>
<rect x="500.40" y="412.20" width="37.40" height="84.40" fill="#c8dcef"/>
<line x1="410.80" y1="412.20" x2="410.80" y2="496.60" stroke="#eeeeee" stroke-width="0.6" stroke-dasharray="1.5 1.5"/>
<line x1="437.30" y1="412.20" x2="437.30" y2="496.60" stroke="#5a606e" stroke-width="0.85" stroke-dasharray="2.6 1.0"/>
<line x1="468.40" y1="412.20" x2="468.40" y2="496.60" stroke="#5a606e" stroke-width="0.85" stroke-dasharray="2.6 1.0"/>
<line x1="500.40" y1="412.20" x2="500.40" y2="496.60" stroke="#5a606e" stroke-width="0.85" stroke-dasharray="2.6 1.0"/>
<line x1="538.5" y1="412.20" x2="538.5" y2="496.60" stroke="#000" stroke-width="1.1"/>
<path d="M375.80 415.00L376.60 449.70L377.60 471.00L378.80 452.00L380.00 477.00L380.10 473.54L381.15 455.00L382.20 478.00L383.25 481.06L384.30 479.02L385.35 461.00L386.40 478.00L387.45 479.00L388.50 477.00L389.55 483.41L390.60 485.39L391.65 462.00L392.70 480.00L393.75 481.14L394.80 478.47L395.85 478.96L396.90 484.00L397.95 487.51L399.00 493.50L400.05 480.35L401.10 483.38L402.15 485.24L403.20 483.84L404.25 481.16L405.30 481.37L406.35 485.87L407.40 486.71L408.45 480.56L409.50 488.81L410.55 487.54L411.60 488.85L412.65 477.94L413.70 479.79L414.75 488.55L415.80 487.04L416.85 485.30L417.90 487.13L418.95 486.65L420.00 485.04L421.05 489.68L422.10 484.19L423.15 487.13L424.20 487.20L425.25 487.82L426.30 493.01L427.35 486.65L428.40 493.38L429.45 487.56L430.50 484.74L431.55 487.61L432.60 489.07L433.65 490.58L434.70 486.14L435.75 485.43L436.80 487.66L437.85 486.29L438.90 486.44L439.95 487.65L441.00 489.66L442.05 488.15L443.10 484.51L444.15 489.15L445.20 490.10L446.25 490.16L447.30 489.19L448.35 488.32L449.40 489.64L450.45 489.61L451.50 485.66L452.55 488.36L453.60 484.51L454.65 487.22L455.70 486.78L456.75 487.34L457.80 487.69L458.85 487.66L459.90 488.34L460.95 487.30L462.00 488.97L463.05 484.57L464.10 484.53L465.15 487.30L466.20 488.97L467.25 489.31L468.30 487.89L469.35 485.48L470.40 487.82L471.45 487.45L472.50 487.47L473.55 488.39L474.60 491.22L475.65 487.99L476.70 486.41L477.75 488.94L478.80 489.02L479.85 488.16L480.90 489.35L481.95 488.42L483.00 488.28L484.05 488.95L485.10 485.20L486.15 487.43L487.20 489.88L488.25 489.85L489.30 484.25L490.35 487.93L491.40 489.43L492.45 485.70L493.50 489.33L494.55 489.27L495.60 487.29L496.65 489.44L497.70 487.39L498.75 487.27L499.80 489.95L500.85 490.73L501.90 488.25L502.95 490.49L504.00 489.85L505.05 493.32L506.10 491.25L507.15 488.22L508.20 490.42L509.25 486.82L510.30 490.09L511.35 490.52L512.40 484.90L513.45 489.71L514.50 488.90L515.55 489.09L516.60 491.16L517.65 486.40L518.70 489.72L519.75 489.15L520.80 491.53L521.85 487.73L522.90 487.87L523.95 490.98L525.00 485.23L526.05 492.40L527.10 486.59L528.15 492.27L529.20 492.61L530.25 488.43" fill="none" stroke="#000" stroke-width="1.05" stroke-linejoin="round"/>
<path d="M437.70 462.18L438.60 460.08L439.50 455.50L440.40 457.73L441.30 456.50L442.20 462.38L443.10 459.15L444.00 462.30L444.90 460.30L445.80 459.89L446.70 459.42L447.60 457.36L448.50 463.39L449.40 463.03L450.30 460.64L451.20 457.79L452.10 461.00L453.00 461.40L453.90 461.39L454.80 463.39L455.70 458.57L456.60 461.56L457.50 460.47L458.40 462.00L459.30 462.20L460.20 463.67L461.10 462.85L462.00 462.30L462.90 462.35L463.80 463.41L464.70 461.83L465.60 460.60L466.50 462.77L467.40 460.14L468.30 460.47L469.20 459.89L470.10 461.69L471.00 463.97L471.90 459.47L472.80 461.90L473.70 463.26L474.60 463.32L475.50 458.35L476.40 463.02L477.30 459.76L478.20 462.70L479.10 461.53L480.00 457.90L480.90 458.00L481.80 460.86L482.70 461.11L483.60 461.29L484.50 462.31L485.40 460.09L486.30 462.45L487.20 461.20L488.10 462.91L489.00 463.22L489.90 458.46L490.80 459.96L491.70 461.88L492.60 457.78L493.50 462.59L494.40 458.53L495.30 463.10L496.20 461.19L497.10 460.02L498.00 463.24L498.90 459.21L499.80 463.33L500.70 461.37L501.60 458.59L502.50 459.09L503.40 460.37L504.30 457.63L505.20 460.04L506.10 462.49L507.00 459.62L507.90 459.84L508.80 460.46L509.70 463.01L510.60 461.93L511.50 460.33L512.40 458.45L513.30 459.28L514.20 462.15L515.10 459.07L516.00 460.86L516.90 463.97L517.80 460.59L518.70 461.97L519.60 458.42L520.50 462.43L521.40 461.96L522.30 459.80L523.20 462.87L524.10 461.44L525.00 463.41L525.90 461.19L526.80 462.00L527.70 459.85L528.60 461.04" fill="none" stroke="#000" stroke-width="0.9" stroke-linejoin="round"/>
<rect x="430.00" y="430.4" width="106.70" height="38.5" rx="3" ry="3" fill="none" stroke="#3e4d6c" stroke-width="1.1" stroke-dasharray="4.3 2.1"/>
<line x1="430.00" y1="468.9" x2="437.30" y2="496.60" stroke="#444" stroke-width="1.0" stroke-dasharray="3.5 1.2"/>
<line x1="536.70" y1="468.9" x2="531.60" y2="496.60" stroke="#444" stroke-width="1.0" stroke-dasharray="3.5 1.2"/>
<text x="425.60" y="508.9" font-family="Liberation Sans" font-size="10" textLength="54.5" lengthAdjust="spacingAndGlyphs">Frequency</text>
<rect x="371.40" y="415.5" width="62.00" height="12.8" rx="1.5" fill="#fff" fill-opacity="0.8" stroke="#dddddd" stroke-width="0.7"/>
<line x1="373.80" y1="421.4" x2="389.30" y2="421.4" stroke="#000" stroke-width="1.1"/>
<text x="394.10" y="424.2" font-family="Liberation Sans" font-size="7.6" fill="#1a1a1a" textLength="35.4" lengthAdjust="spacingAndGlyphs">Channel 3</text>
<text x="0" y="0" transform="translate(5.2 454.8) rotate(-90)" text-anchor="middle" font-family="Liberation Sans" font-size="9.6" textLength="46.2" lengthAdjust="spacingAndGlyphs">Amplitude</text>
<text x="65" y="559.3" font-family="Liberation Serif" font-size="25.5" textLength="407" lengthAdjust="spacingAndGlyphs">(b) Varying correlations among channels.</text>
</svg>
</body></html>
